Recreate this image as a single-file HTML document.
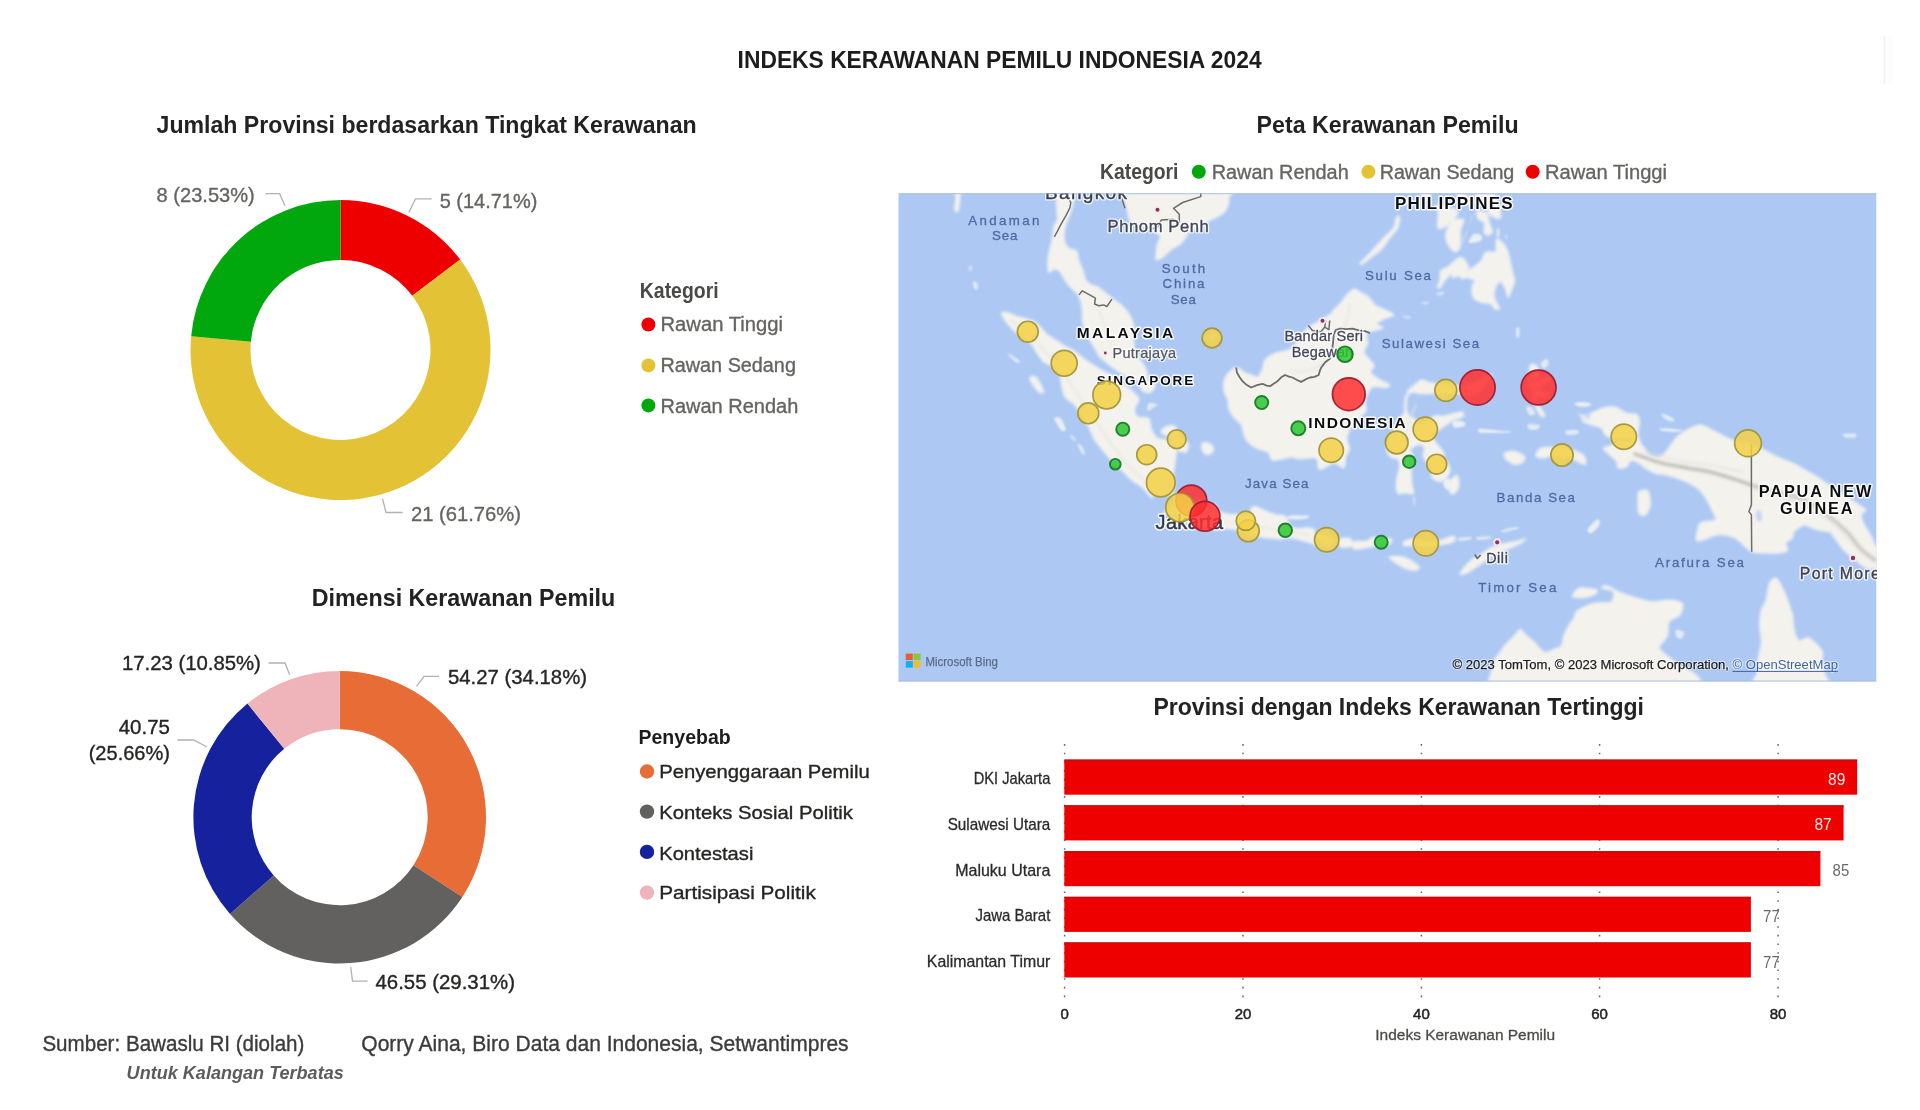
<!DOCTYPE html>
<html lang="id"><head><meta charset="utf-8"><title>Indeks Kerawanan Pemilu Indonesia 2024</title>
<style>html,body{margin:0;padding:0;background:#fff;}body{width:1920px;height:1110px;overflow:hidden;}svg{display:block;font-family:"Liberation Sans", sans-serif;}</style></head><body>
<svg width="1920" height="1110" viewBox="0 0 1920 1110">
<defs><clipPath id="mapclip"><rect x="898.5" y="193.5" width="977.8" height="488"/></clipPath><filter id="soft" x="-5%" y="-5%" width="110%" height="110%"><feGaussianBlur stdDeviation="1.35"/></filter><filter id="soft2" x="-5%" y="-5%" width="110%" height="110%"><feGaussianBlur stdDeviation="0.55"/></filter><filter id="soft3" x="-5%" y="-5%" width="110%" height="110%"><feGaussianBlur stdDeviation="1.3"/></filter><filter id="tblur" x="-5%" y="-20%" width="110%" height="140%"><feGaussianBlur stdDeviation="0.45"/></filter><filter id="halo" x="-10%" y="-30%" width="120%" height="160%"><feGaussianBlur stdDeviation="1.6"/></filter></defs>
<rect width="1920" height="1110" fill="#ffffff"/>
<rect x="1883.6" y="36" width="1.6" height="48" fill="#f1f1f1"/>
<rect x="1888" y="36" width="6" height="48" fill="#fcfcfc"/>
<g filter="url(#tblur)">
<text x="737.6" y="68" font-size="23.2" fill="#1f1f1f" font-weight="bold" text-anchor="start" textLength="524" lengthAdjust="spacingAndGlyphs">INDEKS KERAWANAN PEMILU INDONESIA 2024</text>
<text x="156.6" y="132.6" font-size="24.2" fill="#222" font-weight="bold" text-anchor="start" textLength="540" lengthAdjust="spacingAndGlyphs">Jumlah Provinsi berdasarkan Tingkat Kerawanan</text>
<text x="1256.6" y="132.9" font-size="24.2" fill="#222" font-weight="bold" text-anchor="start" textLength="262" lengthAdjust="spacingAndGlyphs">Peta Kerawanan Pemilu</text>
<text x="311.7" y="605.6" font-size="24" fill="#222" font-weight="bold" text-anchor="start" textLength="303.6" lengthAdjust="spacingAndGlyphs">Dimensi Kerawanan Pemilu</text>
<text x="1153.5" y="715" font-size="24" fill="#222" font-weight="bold" text-anchor="start" textLength="490.5" lengthAdjust="spacingAndGlyphs">Provinsi dengan Indeks Kerawanan Tertinggi</text>
</g>
<g filter="url(#soft2)">
<path d="M340.50,200.00A150,150 0 0 1 460.20,259.60L412.32,295.76A90,90 0 0 0 340.50,260.00Z" fill="#ee0000"/>
<path d="M460.20,259.60A150,150 0 1 1 191.14,336.16L250.88,341.70A90,90 0 1 0 412.32,295.76Z" fill="#e3c335"/>
<path d="M191.14,336.16A150,150 0 0 1 340.50,200.00L340.50,260.00A90,90 0 0 0 250.88,341.70Z" fill="#04a80c"/>
</g>
<g fill="none" stroke="#b3b0ad" stroke-width="1.3" filter="url(#tblur)">
<polyline points="431.5,198.8 415.5,198.8 408.9,212.4"/>
<polyline points="265.4,193.7 279.6,193.7 285,205.7"/>
<polyline points="382.5,498.7 386,512.5 402.5,512.5"/>
</g>
<g filter="url(#tblur)">
<text x="439.7" y="207.9" font-size="21" fill="#666462" stroke="#666462" stroke-width="0.35" font-weight="normal" text-anchor="start" textLength="97.6" lengthAdjust="spacingAndGlyphs">5 (14.71%)</text>
<text x="156.6" y="201.8" font-size="21" fill="#666462" stroke="#666462" stroke-width="0.35" font-weight="normal" text-anchor="start" textLength="98.2" lengthAdjust="spacingAndGlyphs">8 (23.53%)</text>
<text x="411" y="520.5" font-size="21" fill="#666462" stroke="#666462" stroke-width="0.35" font-weight="normal" text-anchor="start" textLength="110" lengthAdjust="spacingAndGlyphs">21 (61.76%)</text>
<text x="639.8" y="297.6" font-size="21.5" fill="#4a4846" font-weight="bold" text-anchor="start" textLength="78.8" lengthAdjust="spacingAndGlyphs">Kategori</text>
</g>
<circle cx="648.4" cy="324.5" r="7" fill="#ee0000" filter="url(#soft2)"/>
<circle cx="648.4" cy="365.4" r="7" fill="#e3c335" filter="url(#soft2)"/>
<circle cx="648.4" cy="405.4" r="7" fill="#04a80c" filter="url(#soft2)"/>
<g filter="url(#tblur)">
<text x="660.5" y="331.3" font-size="20" fill="#666462" stroke="#666462" stroke-width="0.35" font-weight="normal" text-anchor="start" textLength="122.5" lengthAdjust="spacingAndGlyphs">Rawan Tinggi</text>
<text x="660.5" y="372.2" font-size="20" fill="#666462" stroke="#666462" stroke-width="0.35" font-weight="normal" text-anchor="start" textLength="135.4" lengthAdjust="spacingAndGlyphs">Rawan Sedang</text>
<text x="660.5" y="412.7" font-size="20" fill="#666462" stroke="#666462" stroke-width="0.35" font-weight="normal" text-anchor="start" textLength="137.8" lengthAdjust="spacingAndGlyphs">Rawan Rendah</text>
</g>
<g filter="url(#soft2)">
<path d="M339.70,670.90A146.3,146.3 0 0 1 462.36,896.95L413.48,865.17A88,88 0 0 0 339.70,729.20Z" fill="#e76c36"/>
<path d="M462.36,896.95A146.3,146.3 0 0 1 230.03,914.03L273.73,875.44A88,88 0 0 0 413.48,865.17Z" fill="#646060"/>
<path d="M230.03,914.03A146.3,146.3 0 0 1 247.51,703.60L284.25,748.87A88,88 0 0 0 273.73,875.44Z" fill="#13239d"/>
<path d="M247.51,703.60A146.3,146.3 0 0 1 339.70,670.90L339.70,729.20A88,88 0 0 0 284.25,748.87Z" fill="#efb4b9"/>
</g>
<g fill="none" stroke="#b3b0ad" stroke-width="1.3" filter="url(#tblur)">
<polyline points="439,676.3 424,676.3 416.5,686.3"/>
<polyline points="268.5,663 285,663 289.6,674.8"/>
<polyline points="177.5,740 193.7,740 207,747"/>
<polyline points="350.7,967 352.5,981.2 367.5,981.2"/>
</g>
<g filter="url(#tblur)">
<text x="448" y="683.6" font-size="20" fill="#262524" stroke="#262524" stroke-width="0.35" font-weight="normal" text-anchor="start" textLength="139" lengthAdjust="spacingAndGlyphs">54.27 (34.18%)</text>
<text x="121.9" y="670.2" font-size="20" fill="#262524" stroke="#262524" stroke-width="0.35" font-weight="normal" text-anchor="start" textLength="139" lengthAdjust="spacingAndGlyphs">17.23 (10.85%)</text>
<text x="118.7" y="733.6" font-size="20" fill="#262524" stroke="#262524" stroke-width="0.35" font-weight="normal" text-anchor="start" textLength="51.3" lengthAdjust="spacingAndGlyphs">40.75</text>
<text x="88.7" y="760.4" font-size="20" fill="#262524" stroke="#262524" stroke-width="0.35" font-weight="normal" text-anchor="start" textLength="81.3" lengthAdjust="spacingAndGlyphs">(25.66%)</text>
<text x="375.5" y="988.6" font-size="20" fill="#262524" stroke="#262524" stroke-width="0.35" font-weight="normal" text-anchor="start" textLength="139.5" lengthAdjust="spacingAndGlyphs">46.55 (29.31%)</text>
<text x="638.5" y="744" font-size="20" fill="#1e1e1e" font-weight="bold" text-anchor="start" textLength="92.2" lengthAdjust="spacingAndGlyphs">Penyebab</text>
</g>
<circle cx="647" cy="771.5" r="7.2" fill="#e76c36" filter="url(#soft2)"/>
<circle cx="647" cy="811.6" r="7.2" fill="#646060" filter="url(#soft2)"/>
<circle cx="647" cy="851.9" r="7.2" fill="#13239d" filter="url(#soft2)"/>
<circle cx="647" cy="892.6" r="7.2" fill="#efb4b9" filter="url(#soft2)"/>
<g filter="url(#tblur)">
<text x="659.2" y="777.7" font-size="19" fill="#262524" stroke="#262524" stroke-width="0.35" font-weight="normal" text-anchor="start" textLength="210.5" lengthAdjust="spacingAndGlyphs">Penyenggaraan Pemilu</text>
<text x="659.2" y="818.8" font-size="19" fill="#262524" stroke="#262524" stroke-width="0.35" font-weight="normal" text-anchor="start" textLength="193.8" lengthAdjust="spacingAndGlyphs">Konteks Sosial Politik</text>
<text x="659.2" y="859.5" font-size="19" fill="#262524" stroke="#262524" stroke-width="0.35" font-weight="normal" text-anchor="start" textLength="94.2" lengthAdjust="spacingAndGlyphs">Kontestasi</text>
<text x="659.2" y="899.2" font-size="19" fill="#262524" stroke="#262524" stroke-width="0.35" font-weight="normal" text-anchor="start" textLength="156.6" lengthAdjust="spacingAndGlyphs">Partisipasi Politik</text>
<text x="42.4" y="1050.8" font-size="21.8" fill="#3b3b3b" stroke="#3b3b3b" stroke-width="0.35" font-weight="normal" text-anchor="start" textLength="262" lengthAdjust="spacingAndGlyphs">Sumber: Bawaslu RI (diolah)</text>
<text x="361.3" y="1050.8" font-size="21.8" fill="#3b3b3b" stroke="#3b3b3b" stroke-width="0.35" font-weight="normal" text-anchor="start" textLength="487.3" lengthAdjust="spacingAndGlyphs">Qorry Aina, Biro Data dan Indonesia, Setwantimpres</text>
<text x="126.6" y="1078.7" font-size="18.2" fill="#5c5c5c" font-weight="bold" text-anchor="start" textLength="217.2" lengthAdjust="spacingAndGlyphs" font-style="italic">Untuk Kalangan Terbatas</text>
</g>
<g filter="url(#tblur)">
<text x="1100" y="179.1" font-size="21.5" fill="#4a4846" font-weight="bold" text-anchor="start" textLength="78.5" lengthAdjust="spacingAndGlyphs">Kategori</text>
<text x="1211.7" y="179.1" font-size="20" fill="#666462" stroke="#666462" stroke-width="0.35" font-weight="normal" text-anchor="start" textLength="137" lengthAdjust="spacingAndGlyphs">Rawan Rendah</text>
<text x="1379.7" y="179.1" font-size="20" fill="#666462" stroke="#666462" stroke-width="0.35" font-weight="normal" text-anchor="start" textLength="134.6" lengthAdjust="spacingAndGlyphs">Rawan Sedang</text>
<text x="1545" y="179.1" font-size="20" fill="#666462" stroke="#666462" stroke-width="0.35" font-weight="normal" text-anchor="start" textLength="122" lengthAdjust="spacingAndGlyphs">Rawan Tinggi</text>
</g>
<circle cx="1198.8" cy="171.7" r="7" fill="#04a80c" filter="url(#soft2)"/>
<circle cx="1368.4" cy="171.7" r="7" fill="#e3c335" filter="url(#soft2)"/>
<circle cx="1532.7" cy="171.7" r="7" fill="#ee0000" filter="url(#soft2)"/>
<g clip-path="url(#mapclip)">
<rect x="898" y="193" width="979" height="489" fill="#acc8f3"/>
<g filter="url(#soft)">
<g fill="none" stroke="#d5e2f7" stroke-width="1.8" stroke-linejoin="round" opacity="0.9">
<path d="M1056.0,182.2C1053.1,184.5 1056.2,193.6 1056.3,197.4C1056.4,201.2 1056.7,204.2 1056.8,207.5C1056.9,210.8 1057.8,216.2 1057.3,219.2C1056.8,222.3 1054.2,225.1 1053.5,227.6C1052.8,230.1 1053.1,233.5 1052.7,236.0C1052.3,238.5 1051.7,241.5 1051.0,244.3C1050.4,247.0 1049.1,251.4 1048.6,254.3C1048.1,257.2 1047.7,260.7 1047.8,263.4C1047.8,266.2 1048.2,271.7 1049.1,272.6C1049.9,273.4 1052.0,269.5 1053.5,269.3C1055.0,269.0 1057.5,269.3 1059.3,270.9C1061.0,272.5 1063.3,277.5 1065.0,280.0C1066.7,282.5 1068.9,285.4 1070.8,287.5C1072.6,289.6 1075.9,292.1 1077.4,294.1C1078.8,296.1 1079.9,298.1 1080.6,300.7C1081.4,303.3 1082.0,308.4 1082.3,311.5C1082.6,314.6 1082.1,318.3 1082.6,321.4C1083.1,324.5 1084.5,329.3 1085.6,332.1C1086.6,334.9 1088.2,337.5 1089.7,340.0C1091.2,342.5 1094.1,346.7 1095.4,349.1C1096.8,351.4 1097.1,353.7 1098.7,355.6C1100.3,357.6 1103.9,360.4 1106.1,362.2C1108.3,364.1 1110.9,366.1 1113.5,368.0C1116.1,369.8 1120.5,372.8 1123.4,374.6C1126.2,376.3 1130.1,378.9 1132.4,379.8C1134.8,380.7 1137.2,380.6 1139.0,380.6C1140.9,380.6 1143.4,380.3 1144.8,379.8C1146.1,379.3 1147.5,378.8 1147.7,377.4C1148.0,375.9 1147.3,372.3 1146.4,370.0C1145.5,367.6 1143.2,364.2 1141.5,361.7C1139.7,359.3 1136.0,356.2 1134.9,353.5C1133.8,350.8 1134.3,346.3 1134.1,343.6C1133.9,340.9 1133.6,337.9 1133.6,335.4C1133.6,332.9 1134.4,329.6 1134.1,327.1C1133.8,324.7 1132.7,321.4 1131.6,318.9C1130.5,316.4 1128.4,312.9 1126.7,310.6C1124.9,308.4 1122.1,305.8 1120.1,304.0C1118.1,302.3 1115.5,300.6 1113.5,299.1C1111.5,297.6 1109.2,295.8 1106.9,294.1C1104.7,292.4 1100.9,288.9 1098.7,287.5C1096.5,286.1 1094.0,286.0 1092.1,285.0C1090.3,284.0 1087.8,283.0 1086.4,280.9C1085.0,278.7 1084.2,273.9 1083.1,270.9C1082.0,267.9 1080.0,263.9 1079.0,260.9C1078.0,258.0 1078.0,252.8 1076.5,251.0C1075.1,249.1 1070.9,249.7 1069.1,248.5C1067.4,247.2 1065.8,245.0 1065.0,242.6C1064.3,240.3 1064.0,235.6 1064.2,232.6C1064.4,229.6 1065.8,225.3 1066.7,222.6C1067.5,219.8 1069.0,216.7 1070.0,214.2C1070.9,211.7 1072.1,208.1 1072.7,205.8C1073.4,203.6 1073.7,201.1 1074.1,199.1C1074.4,197.1 1074.6,194.9 1074.9,192.4C1075.1,189.8 1078.5,183.8 1075.7,182.2C1072.9,180.7 1058.9,180.0 1056.0,182.2Z"/>
<path d="M1122.6,182.2C1106.5,184.3 1123.0,192.6 1123.4,195.7C1123.8,198.9 1124.4,201.0 1125.0,203.3C1125.6,205.6 1126.9,208.5 1127.5,210.9C1128.1,213.2 1128.0,217.0 1129.1,219.2C1130.2,221.5 1133.0,224.7 1134.9,225.9C1136.7,227.2 1139.5,227.4 1141.5,227.6C1143.4,227.9 1145.9,227.0 1148.0,227.6C1150.1,228.2 1153.6,230.4 1155.4,231.8C1157.3,233.2 1160.1,234.9 1160.4,236.8C1160.6,238.7 1157.7,241.9 1157.1,244.3C1156.5,246.7 1156.4,250.4 1156.3,252.6C1156.1,254.9 1155.2,258.4 1155.9,259.3C1156.7,260.2 1159.5,259.3 1161.2,258.5C1162.8,257.6 1165.2,255.0 1167.0,253.5C1168.7,252.0 1170.7,249.8 1172.7,248.5C1174.7,247.1 1178.1,245.9 1180.1,244.3C1182.1,242.7 1184.5,239.6 1185.9,237.6C1187.2,235.6 1187.8,232.2 1189.1,230.9C1190.5,229.7 1192.9,229.9 1194.9,229.3C1196.9,228.7 1200.0,228.1 1202.3,226.8C1204.6,225.4 1207.9,221.7 1210.5,220.1C1213.1,218.4 1217.3,217.3 1219.6,215.9C1221.8,214.5 1224.0,212.6 1225.3,210.9C1226.7,209.1 1228.1,206.2 1228.6,204.1C1229.1,202.1 1228.7,200.7 1228.9,197.4C1229.2,194.1 1246.2,184.5 1230.2,182.2C1214.3,180.0 1138.6,180.2 1122.6,182.2Z"/>
<path d="M1001.7,312.6C1002.3,311.8 1005.4,312.1 1007.5,312.6C1009.6,313.1 1012.7,315.0 1015.7,315.9C1018.7,316.9 1024.3,318.0 1027.2,318.9C1030.2,319.8 1033.3,320.8 1035.4,322.2C1037.5,323.6 1039.6,326.2 1041.2,328.0C1042.8,329.7 1044.3,332.1 1046.1,333.7C1048.0,335.3 1050.7,336.8 1053.5,338.7C1056.3,340.5 1061.7,344.1 1065.0,346.1C1068.4,348.1 1072.9,350.0 1075.7,351.9C1078.5,353.8 1081.5,356.9 1083.9,358.8C1086.4,360.6 1089.3,362.4 1092.1,364.2C1095.0,366.0 1099.8,369.1 1102.8,370.8C1105.9,372.5 1110.0,374.0 1112.7,375.7C1115.4,377.4 1118.6,380.4 1120.9,382.3C1123.3,384.1 1126.3,386.4 1128.3,388.0C1130.3,389.7 1132.5,391.3 1134.1,393.0C1135.7,394.7 1138.9,397.2 1139.0,399.6C1139.1,401.9 1135.1,406.0 1134.9,408.6C1134.6,411.2 1135.3,415.3 1137.4,416.8C1139.5,418.3 1146.8,416.6 1148.9,418.5C1151.0,420.3 1150.0,426.2 1151.3,429.2C1152.7,432.1 1155.3,436.5 1157.9,438.2C1160.5,439.9 1165.9,438.9 1168.6,440.7C1171.3,442.4 1175.0,446.5 1176.0,449.7C1177.0,452.9 1175.5,458.5 1175.2,462.1C1174.8,465.7 1173.6,470.4 1173.5,473.6C1173.4,476.8 1174.5,480.2 1174.3,483.5C1174.2,486.8 1174.2,494.4 1172.7,495.9C1171.2,497.4 1166.2,493.3 1164.5,493.4C1162.8,493.5 1162.9,496.7 1161.2,496.7C1159.5,496.7 1154.3,493.2 1153.0,493.4C1151.6,493.7 1153.0,498.5 1152.2,498.4C1151.3,498.2 1148.9,494.4 1147.2,492.6C1145.5,490.7 1143.0,487.8 1140.6,486.0C1138.3,484.1 1134.3,482.4 1131.6,480.2C1128.9,478.0 1125.2,473.6 1122.6,471.1C1120.0,468.7 1117.2,466.7 1114.3,463.7C1111.5,460.8 1106.6,454.9 1103.7,451.4C1100.7,447.8 1096.6,442.9 1094.6,439.8C1092.6,436.8 1092.2,434.3 1090.5,430.8C1088.8,427.3 1085.4,420.6 1083.1,416.8C1080.8,413.0 1077.6,408.3 1074.9,405.3C1072.2,402.4 1067.0,400.0 1065.0,397.1C1063.0,394.1 1062.6,389.2 1061.7,385.6C1060.9,382.0 1060.7,376.2 1059.3,373.2C1057.8,370.3 1054.2,367.6 1051.9,365.8C1049.5,364.1 1046.0,363.8 1043.6,361.7C1041.3,359.6 1038.3,354.8 1036.3,351.9C1034.2,348.9 1032.4,344.6 1029.7,342.0C1027.0,339.4 1021.3,337.0 1018.2,334.6C1015.1,332.1 1011.3,328.0 1009.1,325.5C1006.9,323.0 1004.5,320.0 1003.4,318.1C1002.3,316.1 1001.1,313.4 1001.7,312.6Z"/>
<path d="M1163.7,513.3C1163.8,512.4 1167.1,509.7 1168.6,508.3C1170.1,506.9 1172.4,505.6 1173.5,504.2C1174.6,502.7 1174.6,499.0 1176.0,498.4C1177.3,497.7 1180.5,499.6 1182.6,500.0C1184.7,500.5 1187.7,501.5 1190.0,501.3C1192.2,501.2 1194.9,498.8 1197.4,499.2C1199.8,499.5 1203.8,502.9 1206.4,503.7C1209.0,504.4 1212.7,503.0 1214.6,504.2C1216.6,505.3 1217.5,510.1 1219.6,511.6C1221.7,513.1 1225.9,513.7 1228.6,514.1C1231.3,514.5 1234.8,514.2 1237.6,514.4C1240.5,514.6 1245.3,516.5 1247.5,515.4C1249.7,514.3 1250.8,508.2 1252.4,507.0C1254.0,505.8 1256.1,506.8 1258.2,507.5C1260.3,508.1 1263.7,510.2 1266.4,511.3C1269.1,512.4 1273.6,514.2 1276.3,514.9C1279.0,515.6 1282.8,514.9 1284.5,515.7C1286.2,516.6 1286.8,519.0 1287.8,520.7C1288.8,522.4 1289.6,525.7 1291.1,526.8C1292.6,528.0 1295.2,528.4 1297.6,528.5C1300.1,528.7 1305.0,527.6 1307.5,527.8C1310.0,528.0 1313.4,528.5 1314.4,529.8C1315.4,531.1 1313.8,534.2 1314.1,536.5C1314.4,538.8 1316.8,544.1 1316.6,545.1C1316.3,546.2 1314.5,544.1 1312.4,543.5C1310.3,542.8 1305.8,541.4 1302.6,540.6C1299.4,539.8 1294.5,538.4 1291.1,538.1C1287.6,537.9 1282.9,539.0 1279.6,539.0C1276.2,539.0 1272.1,538.5 1268.9,538.1C1265.7,537.8 1261.5,537.6 1258.2,536.8C1254.9,536.1 1249.9,534.2 1246.7,533.1C1243.5,532.1 1240.0,530.5 1236.8,529.8C1233.6,529.1 1228.5,528.6 1225.3,528.5C1222.1,528.5 1218.7,529.6 1215.4,529.5C1212.2,529.4 1207.4,528.7 1203.9,527.8C1200.5,527.0 1195.4,525.0 1192.4,524.0C1189.5,523.1 1185.6,522.7 1184.2,521.5C1182.9,520.4 1184.6,517.6 1183.4,516.6C1182.2,515.5 1178.3,515.0 1176.0,514.6C1173.6,514.2 1169.6,514.3 1167.8,514.1C1165.9,513.9 1163.5,514.1 1163.7,513.3Z"/>
<path d="M1314.8,535.0C1316.1,534.3 1323.1,534.4 1326.1,535.1C1329.2,535.8 1334.3,538.2 1335.2,539.6C1336.2,541.0 1333.6,543.5 1332.3,544.4C1331.0,545.4 1328.9,546.7 1326.7,545.9C1324.5,545.2 1319.3,541.1 1317.5,539.4C1315.7,537.8 1313.6,535.6 1314.8,535.0Z"/>
<path d="M1337.9,540.8C1338.1,539.5 1340.0,538.5 1341.9,538.2C1343.9,538.0 1349.6,537.9 1351.0,539.1C1352.4,540.3 1352.7,545.2 1351.2,546.4C1349.6,547.6 1342.5,547.7 1340.5,546.9C1338.5,546.0 1337.7,542.1 1337.9,540.8Z"/>
<path d="M1352.9,542.5C1353.7,541.4 1356.6,541.3 1358.7,541.1C1360.7,540.9 1364.7,541.6 1366.8,541.1C1368.9,540.5 1371.0,537.9 1372.7,537.6C1374.4,537.3 1378.1,538.4 1378.3,539.2C1378.5,540.0 1373.3,542.9 1374.1,543.0C1374.8,543.0 1380.6,540.2 1383.2,539.6C1385.8,539.0 1390.5,538.0 1391.4,538.7C1392.4,539.4 1391.3,543.1 1389.5,544.2C1387.8,545.2 1382.6,545.3 1379.6,545.8C1376.7,546.2 1372.7,546.5 1369.8,547.0C1366.8,547.4 1362.4,548.7 1359.9,548.9C1357.4,549.1 1354.4,549.5 1353.4,548.5C1352.3,547.6 1352.1,543.7 1352.9,542.5Z"/>
<path d="M1403.8,541.7C1405.3,540.6 1410.9,539.0 1414.5,539.0C1418.1,539.0 1423.9,541.2 1427.6,541.5C1431.2,541.7 1435.3,541.6 1439.0,540.8C1442.8,540.1 1449.8,536.6 1452.3,536.3C1454.8,536.0 1455.5,537.7 1455.5,538.6C1455.5,539.5 1454.6,541.4 1452.1,542.3C1449.6,543.3 1442.6,544.4 1438.9,545.0C1435.2,545.7 1431.1,546.4 1427.4,546.5C1423.7,546.6 1417.7,545.7 1414.3,545.6C1410.9,545.5 1406.0,546.4 1404.5,545.8C1402.9,545.2 1402.3,542.7 1403.8,541.7Z"/>
<path d="M1388.9,557.1C1389.6,556.3 1396.2,556.2 1399.2,556.5C1402.2,556.8 1406.0,557.7 1409.0,559.3C1412.0,560.8 1418.0,565.2 1419.1,566.9C1420.2,568.5 1418.1,569.8 1416.2,570.1C1414.4,570.4 1409.8,569.9 1406.6,568.7C1403.4,567.5 1397.6,564.1 1394.9,562.4C1392.3,560.6 1388.3,558.0 1388.9,557.1Z"/>
<path d="M1459.9,573.9C1459.6,573.0 1462.0,570.1 1464.0,567.8C1465.9,565.5 1470.4,560.6 1473.0,558.6C1475.6,556.5 1478.7,555.9 1481.2,554.3C1483.7,552.8 1487.0,549.7 1489.8,548.3C1492.5,546.8 1495.8,545.4 1499.4,544.4C1502.9,543.5 1509.3,542.7 1513.2,541.9C1517.2,541.0 1524.6,538.7 1525.7,538.9C1526.8,539.1 1522.9,541.8 1520.4,543.3C1517.9,544.7 1512.9,546.9 1509.1,548.5C1505.2,550.2 1498.1,552.5 1494.7,554.2C1491.2,556.0 1488.9,558.4 1486.1,560.3C1483.3,562.3 1479.0,565.3 1476.0,567.3C1472.9,569.3 1468.3,572.6 1465.9,573.6C1463.5,574.6 1460.2,574.7 1459.9,573.9Z"/>
<path d="M1638.8,491.8C1640.3,490.4 1646.1,489.0 1647.8,490.9C1649.5,492.9 1650.7,501.4 1650.3,505.0C1649.9,508.6 1647.1,513.7 1645.4,514.9C1643.6,516.2 1639.9,515.5 1638.8,513.3C1637.7,511.0 1638.0,503.2 1638.0,500.0C1638.0,496.8 1637.3,493.1 1638.8,491.8Z"/>
<path d="M1355.2,289.1C1356.8,289.5 1359.8,292.2 1361.8,293.3C1363.7,294.4 1366.4,294.9 1368.3,296.6C1370.3,298.3 1372.7,303.0 1374.9,304.9C1377.1,306.7 1380.3,307.5 1383.1,309.0C1386.0,310.5 1393.8,313.2 1393.8,314.8C1393.8,316.3 1385.7,318.0 1383.1,319.4C1380.5,320.8 1376.6,322.6 1376.6,323.8C1376.6,325.1 1383.9,326.9 1383.1,328.0C1382.4,329.1 1374.1,330.4 1371.6,331.3C1369.2,332.1 1367.3,331.9 1366.7,333.7C1366.1,335.6 1367.9,340.9 1367.5,343.6C1367.1,346.3 1363.9,349.4 1364.2,351.9C1364.6,354.3 1368.5,358.0 1370.0,360.1C1371.5,362.2 1374.0,364.0 1374.1,365.8C1374.2,367.7 1369.9,370.3 1370.8,372.4C1371.7,374.5 1377.0,378.0 1379.8,379.8C1382.7,381.7 1388.8,383.6 1389.7,384.8C1390.6,385.9 1388.1,387.4 1385.6,387.7C1383.1,388.0 1376.0,385.8 1373.3,386.7C1370.6,387.6 1368.8,391.5 1367.5,393.8C1366.3,396.1 1365.3,399.4 1365.1,402.0C1364.8,404.6 1367.1,408.2 1365.9,411.1C1364.6,413.9 1359.3,418.1 1356.8,420.9C1354.4,423.8 1350.9,427.3 1349.4,430.0C1348.0,432.7 1347.0,436.2 1347.0,439.0C1347.0,441.9 1349.7,446.2 1349.4,448.9C1349.2,451.6 1346.6,454.5 1345.3,457.1C1344.1,459.7 1342.9,465.3 1341.2,466.2C1339.5,467.1 1337.0,462.4 1333.8,462.9C1330.6,463.4 1322.4,470.1 1319.8,469.5C1317.3,468.9 1318.2,460.5 1316.6,458.8C1315.0,457.0 1311.7,458.0 1309.2,458.0C1306.6,458.0 1302.0,458.9 1299.3,458.8C1296.6,458.7 1293.5,457.1 1291.1,457.1C1288.6,457.1 1285.7,458.3 1282.9,458.8C1280.0,459.2 1274.4,461.1 1272.2,460.1C1269.9,459.1 1270.2,453.9 1268.1,452.2C1266.0,450.5 1260.9,450.1 1258.2,448.9C1255.5,447.7 1251.9,445.7 1250.0,444.0C1248.0,442.2 1246.1,439.6 1245.0,437.4C1243.9,435.2 1243.2,431.1 1242.6,429.2C1242.0,427.2 1242.4,426.2 1240.9,424.2C1239.5,422.2 1234.6,418.5 1232.7,416.0C1230.9,413.5 1229.3,410.2 1228.6,407.8C1227.9,405.3 1228.4,401.8 1227.8,399.6C1227.2,397.3 1225.1,395.3 1224.5,393.0C1223.9,390.6 1223.4,386.5 1223.7,383.9C1223.9,381.3 1224.3,378.2 1226.1,375.7C1228.0,373.2 1233.2,367.9 1236.0,367.5C1238.8,367.1 1242.7,371.8 1245.0,372.9C1247.4,374.0 1249.6,374.3 1251.6,374.9C1253.6,375.4 1256.5,377.6 1258.2,376.5C1259.9,375.4 1262.1,370.0 1263.1,367.5C1264.1,365.0 1263.0,362.2 1264.8,360.1C1266.5,358.0 1271.2,355.0 1274.6,353.5C1278.1,352.0 1284.8,351.4 1287.8,350.2C1290.7,349.0 1292.5,347.1 1294.4,345.3C1296.2,343.4 1298.1,340.5 1300.1,337.9C1302.1,335.3 1305.2,330.2 1307.5,328.0C1309.9,325.7 1313.4,324.4 1315.7,323.0C1318.1,321.7 1320.9,320.3 1323.1,318.9C1325.3,317.5 1328.8,315.4 1330.5,313.9C1332.3,312.5 1333.0,310.7 1334.6,309.0C1336.2,307.3 1339.6,304.2 1341.2,302.4C1342.8,300.5 1343.8,298.3 1345.3,296.6C1346.8,294.9 1349.6,291.9 1351.1,290.8C1352.6,289.7 1353.6,288.8 1355.2,289.1Z"/>
<path d="M1492.5,374.9C1492.0,374.2 1487.4,375.6 1485.1,376.5C1482.7,377.5 1480.0,380.1 1476.8,381.5C1473.6,382.8 1467.4,385.1 1463.7,385.6C1460.0,386.1 1455.9,385.0 1452.2,384.8C1448.5,384.5 1442.5,384.3 1439.0,383.9C1435.6,383.6 1431.9,382.9 1429.2,382.3C1426.5,381.7 1423.0,379.5 1420.9,379.8C1418.9,380.2 1416.9,383.4 1415.2,384.8C1413.5,386.1 1410.9,386.9 1409.4,388.9C1408.0,390.8 1406.1,395.3 1405.3,397.9C1404.6,400.5 1404.7,403.9 1404.5,406.1C1404.3,408.4 1405.0,411.1 1404.2,413.0C1403.3,415.0 1400.2,417.1 1398.8,419.3C1397.3,421.5 1395.9,424.8 1394.6,427.5C1393.4,430.2 1391.7,434.8 1390.5,437.4C1389.4,440.0 1387.2,442.6 1386.8,444.8C1386.3,447.0 1386.4,450.2 1387.2,452.2C1388.1,454.2 1390.6,457.0 1392.2,458.0C1393.8,458.9 1396.8,457.4 1397.9,458.8C1399.0,460.1 1399.7,464.3 1399.6,467.0C1399.5,469.7 1397.6,474.1 1397.1,476.9C1396.6,479.8 1396.2,483.5 1396.3,486.0C1396.4,488.5 1396.5,492.3 1397.9,493.4C1399.4,494.5 1403.8,493.1 1406.2,493.1C1408.5,493.1 1412.7,494.8 1413.5,493.4C1414.4,492.0 1412.3,487.5 1411.9,483.5C1411.5,479.5 1411.0,471.2 1411.1,467.0C1411.2,462.8 1412.9,458.1 1412.7,455.5C1412.6,452.9 1409.8,451.2 1410.3,449.7C1410.8,448.2 1414.3,446.3 1416.0,445.6C1417.7,444.9 1420.5,444.3 1421.8,444.8C1423.0,445.3 1424.0,447.0 1424.2,448.9C1424.5,450.7 1422.6,454.5 1423.4,457.1C1424.3,459.7 1428.6,464.3 1430.0,466.2C1431.3,468.0 1432.2,467.9 1432.5,469.5C1432.7,471.1 1430.9,475.2 1431.6,476.9C1432.4,478.6 1435.7,480.4 1437.4,481.0C1439.1,481.6 1441.4,482.0 1443.1,481.0C1444.9,480.0 1447.9,476.5 1448.9,474.4C1449.9,472.3 1450.3,469.4 1449.7,467.0C1449.1,464.7 1445.8,461.1 1444.8,458.8C1443.8,456.4 1444.3,453.5 1443.1,451.4C1442.0,449.3 1439.0,446.9 1437.4,444.8C1435.8,442.7 1433.9,439.2 1432.5,437.4C1431.0,435.5 1427.2,433.2 1427.5,432.4C1427.9,431.7 1432.7,433.2 1434.9,432.4C1437.1,431.7 1439.7,429.2 1442.3,427.5C1444.9,425.8 1449.5,422.4 1452.2,420.9C1454.9,419.4 1458.7,418.4 1460.4,417.6C1462.1,416.9 1463.4,416.9 1463.7,416.0C1463.9,415.1 1463.5,412.3 1462.0,411.9C1460.6,411.5 1456.5,412.9 1453.8,413.5C1451.1,414.1 1446.9,415.6 1444.0,416.0C1441.0,416.4 1436.8,415.0 1434.1,416.0C1431.4,417.0 1428.2,421.3 1425.9,422.6C1423.5,423.8 1420.2,424.8 1418.5,424.2C1416.8,423.6 1415.7,419.6 1414.4,418.5C1413.0,417.3 1410.6,417.7 1409.4,416.3C1408.3,415.0 1407.1,411.6 1406.6,409.4C1406.2,407.3 1406.5,404.1 1406.6,402.0C1406.8,399.9 1406.9,396.9 1407.8,395.4C1408.7,394.0 1410.8,392.4 1412.7,392.2C1414.7,391.9 1418.2,393.6 1420.9,393.8C1423.7,394.0 1427.4,393.5 1430.8,393.5C1434.3,393.4 1440.1,393.4 1444.0,393.3C1447.8,393.2 1453.1,392.5 1456.3,393.0C1459.5,393.4 1462.3,396.0 1465.3,396.3C1468.4,396.5 1474.1,395.9 1476.8,394.6C1479.6,393.4 1481.7,390.0 1483.4,388.0C1485.1,386.1 1487.0,383.4 1488.4,381.5C1489.7,379.5 1493.0,375.6 1492.5,374.9Z"/>
<path d="M1448.9,482.7C1450.1,480.5 1455.6,474.6 1457.1,475.3C1458.6,475.9 1459.4,484.0 1458.8,486.8C1458.1,489.7 1454.5,493.7 1453.0,494.2C1451.5,494.7 1449.5,491.8 1448.9,490.1C1448.3,488.4 1447.7,484.9 1448.9,482.7Z"/>
<path d="M1504.8,453.0C1506.1,451.9 1511.7,450.9 1514.7,451.4C1517.6,451.9 1523.3,454.7 1524.5,456.3C1525.8,457.9 1524.4,460.8 1522.9,462.1C1521.4,463.3 1517.2,465.0 1514.7,464.5C1512.1,464.0 1507.1,460.5 1505.6,458.8C1504.1,457.0 1503.4,454.1 1504.8,453.0Z"/>
<path d="M1536.0,454.7C1536.5,453.3 1538.2,449.2 1541.0,448.1C1543.7,447.0 1549.9,447.1 1554.1,447.3C1558.3,447.4 1564.5,447.7 1568.9,448.9C1573.3,450.1 1581.3,453.1 1583.7,455.5C1586.1,457.8 1586.8,464.2 1584.9,464.5C1582.9,464.9 1573.9,458.9 1570.6,458.0C1567.2,457.0 1565.0,458.3 1562.3,458.0C1559.6,457.6 1555.2,455.5 1552.5,455.5C1549.8,455.5 1546.5,457.7 1544.2,458.0C1542.0,458.2 1538.9,457.6 1537.7,457.1C1536.4,456.6 1535.5,456.0 1536.0,454.7Z"/>
<path d="M1530.3,365.0C1531.4,363.7 1535.6,364.4 1536.8,365.8C1538.1,367.3 1538.6,372.5 1538.5,374.9C1538.4,377.2 1535.5,380.9 1536.0,381.5C1536.5,382.1 1539.8,379.9 1541.8,379.0C1543.8,378.1 1547.9,375.6 1549.2,375.7C1550.4,375.8 1551.1,378.1 1550.0,379.8C1548.9,381.6 1543.6,385.9 1541.8,387.2C1539.9,388.6 1537.3,388.1 1537.7,388.9C1538.0,389.6 1542.5,391.2 1544.2,392.2C1546.0,393.1 1548.7,394.6 1549.2,395.4C1549.7,396.3 1549.0,397.8 1547.5,397.9C1546.1,398.0 1541.0,395.9 1539.3,395.9C1537.6,395.9 1536.0,396.4 1536.0,397.9C1536.0,399.4 1538.0,403.5 1539.3,406.1C1540.7,408.8 1544.8,414.2 1545.1,415.7C1545.3,417.1 1542.3,417.2 1541.0,416.0C1539.6,414.8 1537.3,410.4 1536.0,407.8C1534.8,405.2 1533.4,401.4 1532.7,398.7C1532.1,396.0 1532.6,391.8 1531.9,389.7C1531.2,387.6 1528.5,387.0 1528.1,384.8C1527.8,382.5 1529.1,377.9 1529.5,374.9C1529.8,371.9 1529.2,366.4 1530.3,365.0Z"/>
<path d="M1161.2,432.4C1160.2,430.6 1164.2,427.7 1166.1,426.7C1168.1,425.7 1172.4,424.8 1174.3,425.9C1176.3,427.0 1177.2,431.4 1179.3,434.1C1181.4,436.8 1187.3,441.2 1188.3,444.0C1189.3,446.7 1187.7,451.4 1185.9,452.2C1184.0,452.9 1178.0,450.9 1176.0,448.9C1174.0,446.9 1174.9,441.5 1172.7,439.0C1170.5,436.6 1162.2,434.3 1161.2,432.4Z"/>
<path d="M1202.3,443.1C1203.5,442.1 1208.8,442.8 1210.5,444.0C1212.2,445.1 1214.3,448.9 1213.8,450.5C1213.3,452.1 1209.0,454.7 1207.2,454.7C1205.5,454.7 1203.0,452.3 1202.3,450.5C1201.6,448.8 1201.1,444.1 1202.3,443.1Z"/>
<path d="M1139.0,381.8C1140.0,381.0 1144.2,381.3 1146.4,381.1C1148.6,381.0 1152.5,379.8 1153.8,380.6C1155.1,381.5 1155.4,385.0 1154.9,386.7C1154.5,388.5 1152.2,391.4 1150.5,392.2C1148.9,392.9 1145.5,392.5 1143.9,391.7C1142.3,390.8 1140.6,387.9 1139.8,386.4C1139.1,384.9 1138.0,382.6 1139.0,381.8Z"/>
<path d="M1029.7,377.4C1030.2,376.2 1034.2,375.3 1036.3,377.4C1038.3,379.5 1043.2,389.1 1043.6,391.3C1044.1,393.6 1041.1,393.1 1039.5,392.2C1037.9,391.2 1034.4,387.0 1033.0,384.8C1031.5,382.5 1029.2,378.5 1029.7,377.4Z"/>
<path d="M954.9,182.2C954.0,184.5 955.7,193.3 955.7,197.4C955.7,201.6 954.5,208.0 954.9,210.0C955.2,212.0 957.4,212.5 958.2,210.9C958.9,209.2 959.3,203.4 959.8,199.1C960.3,194.8 962.2,184.8 961.4,182.2C960.7,179.7 955.7,180.0 954.9,182.2Z"/>
<path d="M1360.1,262.9C1360.7,261.9 1363.9,259.3 1365.9,257.3C1367.8,255.2 1370.4,252.4 1373.3,249.3C1376.1,246.2 1381.7,240.0 1384.8,236.8C1387.9,233.5 1392.1,230.5 1393.8,227.6C1395.5,224.7 1395.4,219.2 1396.3,217.6C1397.2,215.9 1399.3,215.2 1399.6,216.7C1399.8,218.2 1399.5,224.2 1397.9,227.6C1396.3,231.0 1391.5,235.9 1388.9,239.3C1386.3,242.7 1383.0,247.7 1380.7,250.1C1378.3,252.6 1375.4,254.0 1373.3,255.6C1371.2,257.2 1368.4,259.6 1366.7,260.9C1365.0,262.2 1362.8,264.0 1361.8,264.3C1360.8,264.6 1359.5,264.0 1360.1,262.9Z"/>
<path d="M1420.1,182.2C1418.5,184.0 1420.3,191.5 1420.9,194.1C1421.6,196.6 1422.9,198.6 1424.2,199.1C1425.6,199.6 1428.9,199.9 1430.0,197.4C1431.1,194.9 1433.1,184.5 1431.6,182.2C1430.2,180.0 1421.7,180.5 1420.1,182.2Z"/>
<path d="M1437.4,204.1C1437.9,202.9 1438.5,205.3 1441.5,206.2C1444.5,207.0 1455.0,208.3 1457.1,210.0C1459.2,211.7 1456.8,215.3 1455.5,217.6C1454.1,219.8 1450.7,223.5 1448.1,225.1C1445.5,226.7 1439.7,230.1 1438.2,228.4C1436.7,226.8 1438.3,217.9 1438.2,214.2C1438.1,210.6 1436.9,205.4 1437.4,204.1Z"/>
<path d="M1445.6,236.8C1445.5,234.0 1446.7,230.1 1448.1,227.6C1449.4,225.1 1452.3,221.2 1454.7,220.1C1457.0,218.9 1462.8,218.4 1463.7,220.1C1464.6,221.7 1460.9,227.1 1460.4,230.9C1459.9,234.8 1461.1,242.8 1460.4,246.0C1459.7,249.1 1457.2,251.8 1455.5,251.8C1453.7,251.8 1450.4,248.2 1448.9,246.0C1447.4,243.7 1445.7,239.5 1445.6,236.8Z"/>
<path d="M1476.8,210.9C1478.1,210.0 1484.9,211.6 1486.7,213.4C1488.6,215.1 1488.3,219.8 1489.2,222.6C1490.0,225.3 1492.6,229.9 1492.5,231.8C1492.3,233.7 1489.6,235.0 1488.4,235.1C1487.1,235.2 1484.9,234.5 1484.2,232.6C1483.6,230.7 1485.1,224.6 1484.2,222.6C1483.4,220.6 1479.6,221.0 1478.5,219.2C1477.4,217.5 1475.6,211.7 1476.8,210.9Z"/>
<path d="M1475.2,193.2C1476.3,192.3 1482.4,193.2 1485.1,193.2C1487.8,193.2 1491.4,192.1 1493.3,193.2C1495.1,194.3 1496.3,197.1 1497.4,200.8C1498.5,204.4 1501.3,215.2 1500.7,217.6C1500.1,220.0 1495.1,217.4 1493.3,216.7C1491.4,216.1 1489.2,214.9 1488.4,213.4C1487.5,211.9 1489.1,208.8 1487.5,206.7C1485.9,204.5 1479.5,201.1 1477.7,199.1C1475.8,197.1 1474.1,194.1 1475.2,193.2Z"/>
<path d="M1457.9,193.2C1459.7,192.5 1468.0,195.7 1470.3,197.4C1472.5,199.2 1473.5,204.2 1472.7,205.0C1472.0,205.7 1467.4,202.9 1465.3,202.5C1463.2,202.0 1459.9,203.5 1458.8,202.1C1457.7,200.7 1456.2,193.9 1457.9,193.2Z"/>
<path d="M1437.4,287.5C1437.3,286.4 1439.4,282.5 1439.9,280.0C1440.3,277.5 1439.4,272.9 1440.7,270.9C1441.9,268.9 1445.9,268.4 1448.1,266.8C1450.3,265.1 1453.4,261.5 1455.5,260.1C1457.6,258.7 1460.1,256.6 1462.0,257.6C1464.0,258.6 1468.0,264.8 1468.6,266.8C1469.2,268.8 1465.2,271.0 1466.2,270.9C1467.1,270.8 1472.9,267.5 1475.2,265.9C1477.5,264.3 1480.3,262.1 1481.8,260.1C1483.3,258.1 1483.6,253.9 1485.1,252.6C1486.5,251.4 1490.0,251.9 1491.6,251.8C1493.2,251.7 1495.0,253.7 1495.8,251.8C1496.5,249.9 1495.3,240.4 1496.6,239.3C1497.8,238.2 1502.2,242.3 1504.0,244.3C1505.7,246.3 1507.1,249.9 1508.1,252.6C1509.1,255.4 1509.8,259.4 1510.5,262.6C1511.3,265.8 1512.4,271.5 1513.0,274.2C1513.6,277.0 1515.0,278.1 1514.7,280.9C1514.3,283.6 1511.5,290.0 1510.5,292.5C1509.6,294.9 1508.9,298.2 1508.1,297.4C1507.2,296.7 1506.0,289.8 1504.8,287.5C1503.6,285.1 1501.3,281.4 1499.9,281.7C1498.4,281.9 1495.7,286.5 1494.9,289.1C1494.2,291.8 1494.2,296.2 1494.9,299.1C1495.6,301.9 1499.5,306.7 1499.5,308.2C1499.5,309.7 1496.2,309.6 1494.9,309.0C1493.6,308.4 1492.8,305.0 1490.8,304.0C1488.8,303.0 1484.2,303.1 1481.8,302.4C1479.3,301.6 1475.9,300.6 1474.4,299.1C1472.9,297.6 1472.2,294.7 1471.9,292.5C1471.7,290.2 1472.2,285.9 1472.7,284.2C1473.2,282.4 1476.1,281.9 1475.2,280.9C1474.3,279.9 1469.0,277.8 1467.0,277.5C1465.0,277.2 1463.2,279.1 1462.0,278.9C1460.9,278.6 1461.1,276.1 1459.6,275.9C1458.1,275.7 1453.3,278.0 1452.2,277.5C1451.1,277.1 1453.4,272.3 1452.2,272.9C1451.0,273.5 1445.7,279.6 1444.0,281.7C1442.2,283.8 1441.7,286.3 1440.7,287.2C1439.7,288.0 1437.5,288.6 1437.4,287.5Z"/>
<path d="M1591.1,414.7C1591.0,413.7 1586.0,416.2 1586.2,416.0C1586.3,415.7 1589.3,414.3 1591.9,413.0C1594.5,411.8 1600.0,408.7 1603.4,407.8C1606.9,406.9 1611.5,406.2 1614.9,407.0C1618.4,407.7 1623.1,411.9 1626.4,413.0C1629.8,414.2 1635.2,413.3 1637.1,414.7C1639.1,416.1 1639.5,419.7 1639.6,422.6C1639.7,425.5 1637.7,430.9 1638.0,434.1C1638.2,437.3 1640.3,441.9 1641.2,444.0C1642.2,446.1 1643.5,446.6 1644.5,448.1C1645.5,449.6 1646.6,452.6 1647.8,453.8C1649.1,455.1 1650.8,455.9 1652.8,456.3C1654.7,456.7 1658.8,457.3 1661.0,456.3C1663.2,455.3 1665.3,452.4 1667.5,449.7C1669.8,447.0 1673.1,441.0 1675.8,438.2C1678.5,435.4 1681.9,432.8 1685.6,430.8C1689.3,428.8 1696.2,425.0 1700.4,425.0C1704.6,425.0 1708.9,428.6 1713.6,430.8C1718.3,433.0 1726.7,438.0 1731.7,439.8C1736.6,441.7 1742.8,442.2 1746.5,443.1C1750.2,444.0 1751.9,444.0 1756.3,445.9C1760.8,447.9 1770.4,453.6 1776.1,456.3C1781.7,459.0 1789.7,461.6 1794.1,463.7C1798.6,465.8 1802.2,468.3 1805.6,470.3C1809.1,472.3 1813.9,474.9 1817.2,476.9C1820.4,478.9 1824.1,481.5 1827.0,483.5C1830.0,485.5 1833.9,488.1 1836.9,490.1C1839.8,492.1 1843.8,494.7 1846.7,496.7C1849.7,498.7 1853.8,501.3 1856.6,503.3C1859.4,505.3 1864.9,508.3 1865.6,509.9C1866.4,511.6 1862.0,512.5 1861.5,514.1C1861.0,515.7 1861.5,518.3 1862.4,520.7C1863.2,523.1 1865.8,527.2 1867.3,529.8C1868.8,532.4 1870.9,535.6 1872.2,538.1C1873.6,540.6 1873.7,544.7 1876.3,546.4C1878.9,548.2 1887.5,546.0 1889.5,549.8C1891.5,553.5 1891.5,568.6 1889.5,571.5C1887.5,574.3 1880.0,569.6 1876.3,568.9C1872.6,568.3 1868.4,569.0 1864.8,567.3C1861.3,565.5 1855.7,559.9 1852.5,557.3C1849.3,554.6 1846.3,552.9 1843.5,549.8C1840.6,546.7 1835.6,539.1 1833.6,536.5C1831.6,533.9 1832.8,533.3 1830.3,532.3C1827.8,531.3 1820.4,530.7 1817.2,529.8C1813.9,529.0 1810.9,527.3 1808.9,526.5C1807.0,525.8 1806.2,524.1 1804.0,524.9C1801.8,525.6 1795.9,529.5 1794.1,531.5C1792.4,533.5 1793.7,536.4 1792.5,538.1C1791.3,539.9 1786.7,541.2 1785.9,543.1C1785.2,545.0 1788.8,549.1 1787.6,550.6C1786.3,552.1 1780.7,552.7 1777.7,553.1C1774.7,553.5 1771.8,553.4 1767.8,553.1C1763.9,552.9 1756.3,553.7 1751.4,551.4C1746.5,549.2 1739.9,540.6 1735.0,538.1C1730.0,535.6 1723.2,534.6 1718.5,534.8C1713.8,535.1 1707.0,539.0 1703.7,539.8C1700.4,540.5 1696.8,542.3 1696.3,539.8C1695.8,537.3 1697.6,526.2 1700.4,523.2C1703.3,520.2 1713.5,521.9 1715.2,519.9C1717.0,517.9 1713.7,513.7 1711.9,509.9C1710.2,506.2 1706.2,498.5 1703.7,495.1C1701.2,491.6 1698.7,489.0 1695.5,486.8C1692.3,484.6 1686.5,481.9 1682.3,480.2C1678.2,478.5 1671.5,476.2 1667.5,475.3C1663.6,474.3 1659.2,474.6 1656.0,473.6C1652.8,472.6 1648.6,470.1 1646.2,468.7C1643.7,467.2 1641.8,465.0 1639.6,463.7C1637.4,462.5 1633.4,459.9 1631.4,460.4C1629.4,460.9 1628.4,465.9 1626.4,467.0C1624.5,468.1 1619.8,468.8 1618.2,467.8C1616.6,466.8 1618.0,463.3 1615.8,460.4C1613.5,457.6 1604.5,451.0 1603.4,448.9C1602.3,446.8 1605.9,447.5 1608.4,446.4C1610.8,445.3 1616.4,442.1 1619.9,441.5C1623.3,440.9 1629.9,442.9 1631.4,442.3C1632.9,441.7 1632.2,438.0 1629.7,437.4C1627.3,436.8 1618.6,438.6 1614.9,438.2C1611.2,437.8 1607.0,436.4 1605.1,434.9C1603.1,433.4 1603.8,429.8 1601.8,428.3C1599.8,426.8 1594.1,425.9 1591.9,425.0C1589.7,424.2 1587.1,424.1 1587.0,422.6C1586.9,421.0 1591.2,415.7 1591.1,414.7Z"/>
<path d="M1486.7,695.2C1453.4,693.1 1487.6,685.0 1488.4,681.4C1489.1,677.8 1490.7,674.5 1491.6,671.1C1492.6,667.8 1493.7,662.0 1494.9,659.2C1496.2,656.4 1498.4,654.4 1499.9,652.4C1501.3,650.3 1502.6,648.1 1504.8,645.6C1507.0,643.0 1512.3,637.8 1514.7,635.4C1517.0,633.0 1518.7,629.5 1520.4,629.5C1522.1,629.5 1524.1,633.5 1526.2,635.4C1528.3,637.3 1532.3,640.1 1534.4,642.2C1536.5,644.2 1538.4,647.4 1540.1,649.0C1541.9,650.5 1543.8,652.4 1545.9,652.4C1548.0,652.4 1551.9,649.9 1554.1,649.0C1556.3,648.1 1559.2,648.5 1560.7,646.4C1562.2,644.4 1562.7,638.6 1564.0,635.4C1565.2,632.2 1567.4,627.8 1568.9,625.2C1570.4,622.7 1572.7,620.5 1573.8,618.5C1574.9,616.4 1574.7,613.5 1576.3,611.7C1577.9,609.9 1581.9,607.9 1584.5,606.7C1587.1,605.4 1590.7,603.9 1593.6,603.3C1596.4,602.7 1600.7,602.7 1603.4,602.5C1606.1,602.2 1610.2,603.3 1611.7,601.6C1613.1,600.0 1614.8,593.6 1613.3,591.5C1611.8,589.5 1602.8,589.1 1601.8,588.2C1600.8,587.3 1604.0,585.0 1606.7,585.7C1609.4,586.3 1615.7,590.6 1619.9,592.4C1624.1,594.1 1629.7,596.0 1634.7,597.4C1639.6,598.8 1647.6,601.2 1652.8,601.6C1657.9,602.0 1664.8,599.7 1669.2,599.9C1673.6,600.2 1680.7,601.0 1682.3,603.3C1683.9,605.6 1681.9,612.3 1679.9,615.1C1677.9,617.9 1671.0,618.8 1669.2,621.8C1667.3,624.9 1669.0,631.6 1667.5,635.4C1666.1,639.2 1659.7,644.5 1659.3,647.3C1659.0,650.1 1661.9,651.3 1665.1,654.1C1668.3,656.9 1676.4,663.2 1680.7,666.0C1685.0,668.8 1690.6,670.4 1693.9,672.9C1697.1,675.3 1699.6,678.9 1702.1,682.3C1704.5,685.6 1742.6,693.3 1710.3,695.2C1678.0,697.1 1520.0,697.3 1486.7,695.2Z"/>
<path d="M1573.8,593.2C1574.8,592.0 1576.8,588.9 1578.8,588.2C1580.7,587.4 1584.3,587.9 1587.0,588.2C1589.7,588.4 1595.6,589.0 1596.9,589.9C1598.1,590.7 1596.9,592.9 1595.2,594.1C1593.5,595.2 1588.1,596.9 1585.3,597.4C1582.6,597.9 1579.1,597.5 1577.1,597.4C1575.2,597.3 1572.7,597.2 1572.2,596.6C1571.7,595.9 1572.9,594.5 1573.8,593.2Z"/>
<path d="M1753.0,695.2C1742.4,691.6 1757.2,676.6 1758.0,671.1C1758.7,665.7 1757.5,663.5 1758.0,659.2C1758.5,654.8 1761.0,647.3 1761.3,642.2C1761.5,637.1 1759.6,630.0 1759.6,625.2C1759.6,620.4 1760.3,613.8 1761.3,610.0C1762.2,606.2 1765.0,604.0 1766.2,599.9C1767.4,595.9 1768.0,586.4 1769.5,583.2C1771.0,579.9 1774.1,577.4 1776.1,578.1C1778.0,578.9 1780.9,584.9 1782.6,588.2C1784.4,591.5 1786.1,595.9 1787.6,599.9C1789.0,604.0 1791.5,610.5 1792.5,615.1C1793.5,619.6 1793.1,626.5 1794.1,630.3C1795.1,634.1 1796.8,639.3 1799.1,640.5C1801.3,641.6 1805.5,636.4 1808.9,637.9C1812.4,639.5 1820.1,647.5 1822.1,650.7C1824.1,653.9 1821.7,655.9 1822.1,659.2C1822.5,662.5 1823.6,667.5 1824.5,672.9C1825.5,678.3 1839.4,691.9 1828.7,695.2C1817.9,698.6 1763.6,698.8 1753.0,695.2Z"/>
</g>
<g fill="#f4f2ed">
<path d="M1056.0,182.2C1053.1,184.5 1056.2,193.6 1056.3,197.4C1056.4,201.2 1056.7,204.2 1056.8,207.5C1056.9,210.8 1057.8,216.2 1057.3,219.2C1056.8,222.3 1054.2,225.1 1053.5,227.6C1052.8,230.1 1053.1,233.5 1052.7,236.0C1052.3,238.5 1051.7,241.5 1051.0,244.3C1050.4,247.0 1049.1,251.4 1048.6,254.3C1048.1,257.2 1047.7,260.7 1047.8,263.4C1047.8,266.2 1048.2,271.7 1049.1,272.6C1049.9,273.4 1052.0,269.5 1053.5,269.3C1055.0,269.0 1057.5,269.3 1059.3,270.9C1061.0,272.5 1063.3,277.5 1065.0,280.0C1066.7,282.5 1068.9,285.4 1070.8,287.5C1072.6,289.6 1075.9,292.1 1077.4,294.1C1078.8,296.1 1079.9,298.1 1080.6,300.7C1081.4,303.3 1082.0,308.4 1082.3,311.5C1082.6,314.6 1082.1,318.3 1082.6,321.4C1083.1,324.5 1084.5,329.3 1085.6,332.1C1086.6,334.9 1088.2,337.5 1089.7,340.0C1091.2,342.5 1094.1,346.7 1095.4,349.1C1096.8,351.4 1097.1,353.7 1098.7,355.6C1100.3,357.6 1103.9,360.4 1106.1,362.2C1108.3,364.1 1110.9,366.1 1113.5,368.0C1116.1,369.8 1120.5,372.8 1123.4,374.6C1126.2,376.3 1130.1,378.9 1132.4,379.8C1134.8,380.7 1137.2,380.6 1139.0,380.6C1140.9,380.6 1143.4,380.3 1144.8,379.8C1146.1,379.3 1147.5,378.8 1147.7,377.4C1148.0,375.9 1147.3,372.3 1146.4,370.0C1145.5,367.6 1143.2,364.2 1141.5,361.7C1139.7,359.3 1136.0,356.2 1134.9,353.5C1133.8,350.8 1134.3,346.3 1134.1,343.6C1133.9,340.9 1133.6,337.9 1133.6,335.4C1133.6,332.9 1134.4,329.6 1134.1,327.1C1133.8,324.7 1132.7,321.4 1131.6,318.9C1130.5,316.4 1128.4,312.9 1126.7,310.6C1124.9,308.4 1122.1,305.8 1120.1,304.0C1118.1,302.3 1115.5,300.6 1113.5,299.1C1111.5,297.6 1109.2,295.8 1106.9,294.1C1104.7,292.4 1100.9,288.9 1098.7,287.5C1096.5,286.1 1094.0,286.0 1092.1,285.0C1090.3,284.0 1087.8,283.0 1086.4,280.9C1085.0,278.7 1084.2,273.9 1083.1,270.9C1082.0,267.9 1080.0,263.9 1079.0,260.9C1078.0,258.0 1078.0,252.8 1076.5,251.0C1075.1,249.1 1070.9,249.7 1069.1,248.5C1067.4,247.2 1065.8,245.0 1065.0,242.6C1064.3,240.3 1064.0,235.6 1064.2,232.6C1064.4,229.6 1065.8,225.3 1066.7,222.6C1067.5,219.8 1069.0,216.7 1070.0,214.2C1070.9,211.7 1072.1,208.1 1072.7,205.8C1073.4,203.6 1073.7,201.1 1074.1,199.1C1074.4,197.1 1074.6,194.9 1074.9,192.4C1075.1,189.8 1078.5,183.8 1075.7,182.2C1072.9,180.7 1058.9,180.0 1056.0,182.2Z"/>
<path d="M1122.6,182.2C1106.5,184.3 1123.0,192.6 1123.4,195.7C1123.8,198.9 1124.4,201.0 1125.0,203.3C1125.6,205.6 1126.9,208.5 1127.5,210.9C1128.1,213.2 1128.0,217.0 1129.1,219.2C1130.2,221.5 1133.0,224.7 1134.9,225.9C1136.7,227.2 1139.5,227.4 1141.5,227.6C1143.4,227.9 1145.9,227.0 1148.0,227.6C1150.1,228.2 1153.6,230.4 1155.4,231.8C1157.3,233.2 1160.1,234.9 1160.4,236.8C1160.6,238.7 1157.7,241.9 1157.1,244.3C1156.5,246.7 1156.4,250.4 1156.3,252.6C1156.1,254.9 1155.2,258.4 1155.9,259.3C1156.7,260.2 1159.5,259.3 1161.2,258.5C1162.8,257.6 1165.2,255.0 1167.0,253.5C1168.7,252.0 1170.7,249.8 1172.7,248.5C1174.7,247.1 1178.1,245.9 1180.1,244.3C1182.1,242.7 1184.5,239.6 1185.9,237.6C1187.2,235.6 1187.8,232.2 1189.1,230.9C1190.5,229.7 1192.9,229.9 1194.9,229.3C1196.9,228.7 1200.0,228.1 1202.3,226.8C1204.6,225.4 1207.9,221.7 1210.5,220.1C1213.1,218.4 1217.3,217.3 1219.6,215.9C1221.8,214.5 1224.0,212.6 1225.3,210.9C1226.7,209.1 1228.1,206.2 1228.6,204.1C1229.1,202.1 1228.7,200.7 1228.9,197.4C1229.2,194.1 1246.2,184.5 1230.2,182.2C1214.3,180.0 1138.6,180.2 1122.6,182.2Z"/>
<path d="M1001.7,312.6C1002.3,311.8 1005.4,312.1 1007.5,312.6C1009.6,313.1 1012.7,315.0 1015.7,315.9C1018.7,316.9 1024.3,318.0 1027.2,318.9C1030.2,319.8 1033.3,320.8 1035.4,322.2C1037.5,323.6 1039.6,326.2 1041.2,328.0C1042.8,329.7 1044.3,332.1 1046.1,333.7C1048.0,335.3 1050.7,336.8 1053.5,338.7C1056.3,340.5 1061.7,344.1 1065.0,346.1C1068.4,348.1 1072.9,350.0 1075.7,351.9C1078.5,353.8 1081.5,356.9 1083.9,358.8C1086.4,360.6 1089.3,362.4 1092.1,364.2C1095.0,366.0 1099.8,369.1 1102.8,370.8C1105.9,372.5 1110.0,374.0 1112.7,375.7C1115.4,377.4 1118.6,380.4 1120.9,382.3C1123.3,384.1 1126.3,386.4 1128.3,388.0C1130.3,389.7 1132.5,391.3 1134.1,393.0C1135.7,394.7 1138.9,397.2 1139.0,399.6C1139.1,401.9 1135.1,406.0 1134.9,408.6C1134.6,411.2 1135.3,415.3 1137.4,416.8C1139.5,418.3 1146.8,416.6 1148.9,418.5C1151.0,420.3 1150.0,426.2 1151.3,429.2C1152.7,432.1 1155.3,436.5 1157.9,438.2C1160.5,439.9 1165.9,438.9 1168.6,440.7C1171.3,442.4 1175.0,446.5 1176.0,449.7C1177.0,452.9 1175.5,458.5 1175.2,462.1C1174.8,465.7 1173.6,470.4 1173.5,473.6C1173.4,476.8 1174.5,480.2 1174.3,483.5C1174.2,486.8 1174.2,494.4 1172.7,495.9C1171.2,497.4 1166.2,493.3 1164.5,493.4C1162.8,493.5 1162.9,496.7 1161.2,496.7C1159.5,496.7 1154.3,493.2 1153.0,493.4C1151.6,493.7 1153.0,498.5 1152.2,498.4C1151.3,498.2 1148.9,494.4 1147.2,492.6C1145.5,490.7 1143.0,487.8 1140.6,486.0C1138.3,484.1 1134.3,482.4 1131.6,480.2C1128.9,478.0 1125.2,473.6 1122.6,471.1C1120.0,468.7 1117.2,466.7 1114.3,463.7C1111.5,460.8 1106.6,454.9 1103.7,451.4C1100.7,447.8 1096.6,442.9 1094.6,439.8C1092.6,436.8 1092.2,434.3 1090.5,430.8C1088.8,427.3 1085.4,420.6 1083.1,416.8C1080.8,413.0 1077.6,408.3 1074.9,405.3C1072.2,402.4 1067.0,400.0 1065.0,397.1C1063.0,394.1 1062.6,389.2 1061.7,385.6C1060.9,382.0 1060.7,376.2 1059.3,373.2C1057.8,370.3 1054.2,367.6 1051.9,365.8C1049.5,364.1 1046.0,363.8 1043.6,361.7C1041.3,359.6 1038.3,354.8 1036.3,351.9C1034.2,348.9 1032.4,344.6 1029.7,342.0C1027.0,339.4 1021.3,337.0 1018.2,334.6C1015.1,332.1 1011.3,328.0 1009.1,325.5C1006.9,323.0 1004.5,320.0 1003.4,318.1C1002.3,316.1 1001.1,313.4 1001.7,312.6Z"/>
<path d="M1163.7,513.3C1163.8,512.4 1167.1,509.7 1168.6,508.3C1170.1,506.9 1172.4,505.6 1173.5,504.2C1174.6,502.7 1174.6,499.0 1176.0,498.4C1177.3,497.7 1180.5,499.6 1182.6,500.0C1184.7,500.5 1187.7,501.5 1190.0,501.3C1192.2,501.2 1194.9,498.8 1197.4,499.2C1199.8,499.5 1203.8,502.9 1206.4,503.7C1209.0,504.4 1212.7,503.0 1214.6,504.2C1216.6,505.3 1217.5,510.1 1219.6,511.6C1221.7,513.1 1225.9,513.7 1228.6,514.1C1231.3,514.5 1234.8,514.2 1237.6,514.4C1240.5,514.6 1245.3,516.5 1247.5,515.4C1249.7,514.3 1250.8,508.2 1252.4,507.0C1254.0,505.8 1256.1,506.8 1258.2,507.5C1260.3,508.1 1263.7,510.2 1266.4,511.3C1269.1,512.4 1273.6,514.2 1276.3,514.9C1279.0,515.6 1282.8,514.9 1284.5,515.7C1286.2,516.6 1286.8,519.0 1287.8,520.7C1288.8,522.4 1289.6,525.7 1291.1,526.8C1292.6,528.0 1295.2,528.4 1297.6,528.5C1300.1,528.7 1305.0,527.6 1307.5,527.8C1310.0,528.0 1313.4,528.5 1314.4,529.8C1315.4,531.1 1313.8,534.2 1314.1,536.5C1314.4,538.8 1316.8,544.1 1316.6,545.1C1316.3,546.2 1314.5,544.1 1312.4,543.5C1310.3,542.8 1305.8,541.4 1302.6,540.6C1299.4,539.8 1294.5,538.4 1291.1,538.1C1287.6,537.9 1282.9,539.0 1279.6,539.0C1276.2,539.0 1272.1,538.5 1268.9,538.1C1265.7,537.8 1261.5,537.6 1258.2,536.8C1254.9,536.1 1249.9,534.2 1246.7,533.1C1243.5,532.1 1240.0,530.5 1236.8,529.8C1233.6,529.1 1228.5,528.6 1225.3,528.5C1222.1,528.5 1218.7,529.6 1215.4,529.5C1212.2,529.4 1207.4,528.7 1203.9,527.8C1200.5,527.0 1195.4,525.0 1192.4,524.0C1189.5,523.1 1185.6,522.7 1184.2,521.5C1182.9,520.4 1184.6,517.6 1183.4,516.6C1182.2,515.5 1178.3,515.0 1176.0,514.6C1173.6,514.2 1169.6,514.3 1167.8,514.1C1165.9,513.9 1163.5,514.1 1163.7,513.3Z"/>
<path d="M1314.8,535.0C1316.1,534.3 1323.1,534.4 1326.1,535.1C1329.2,535.8 1334.3,538.2 1335.2,539.6C1336.2,541.0 1333.6,543.5 1332.3,544.4C1331.0,545.4 1328.9,546.7 1326.7,545.9C1324.5,545.2 1319.3,541.1 1317.5,539.4C1315.7,537.8 1313.6,535.6 1314.8,535.0Z"/>
<path d="M1337.9,540.8C1338.1,539.5 1340.0,538.5 1341.9,538.2C1343.9,538.0 1349.6,537.9 1351.0,539.1C1352.4,540.3 1352.7,545.2 1351.2,546.4C1349.6,547.6 1342.5,547.7 1340.5,546.9C1338.5,546.0 1337.7,542.1 1337.9,540.8Z"/>
<path d="M1352.9,542.5C1353.7,541.4 1356.6,541.3 1358.7,541.1C1360.7,540.9 1364.7,541.6 1366.8,541.1C1368.9,540.5 1371.0,537.9 1372.7,537.6C1374.4,537.3 1378.1,538.4 1378.3,539.2C1378.5,540.0 1373.3,542.9 1374.1,543.0C1374.8,543.0 1380.6,540.2 1383.2,539.6C1385.8,539.0 1390.5,538.0 1391.4,538.7C1392.4,539.4 1391.3,543.1 1389.5,544.2C1387.8,545.2 1382.6,545.3 1379.6,545.8C1376.7,546.2 1372.7,546.5 1369.8,547.0C1366.8,547.4 1362.4,548.7 1359.9,548.9C1357.4,549.1 1354.4,549.5 1353.4,548.5C1352.3,547.6 1352.1,543.7 1352.9,542.5Z"/>
<path d="M1403.8,541.7C1405.3,540.6 1410.9,539.0 1414.5,539.0C1418.1,539.0 1423.9,541.2 1427.6,541.5C1431.2,541.7 1435.3,541.6 1439.0,540.8C1442.8,540.1 1449.8,536.6 1452.3,536.3C1454.8,536.0 1455.5,537.7 1455.5,538.6C1455.5,539.5 1454.6,541.4 1452.1,542.3C1449.6,543.3 1442.6,544.4 1438.9,545.0C1435.2,545.7 1431.1,546.4 1427.4,546.5C1423.7,546.6 1417.7,545.7 1414.3,545.6C1410.9,545.5 1406.0,546.4 1404.5,545.8C1402.9,545.2 1402.3,542.7 1403.8,541.7Z"/>
<path d="M1388.9,557.1C1389.6,556.3 1396.2,556.2 1399.2,556.5C1402.2,556.8 1406.0,557.7 1409.0,559.3C1412.0,560.8 1418.0,565.2 1419.1,566.9C1420.2,568.5 1418.1,569.8 1416.2,570.1C1414.4,570.4 1409.8,569.9 1406.6,568.7C1403.4,567.5 1397.6,564.1 1394.9,562.4C1392.3,560.6 1388.3,558.0 1388.9,557.1Z"/>
<path d="M1459.9,573.9C1459.6,573.0 1462.0,570.1 1464.0,567.8C1465.9,565.5 1470.4,560.6 1473.0,558.6C1475.6,556.5 1478.7,555.9 1481.2,554.3C1483.7,552.8 1487.0,549.7 1489.8,548.3C1492.5,546.8 1495.8,545.4 1499.4,544.4C1502.9,543.5 1509.3,542.7 1513.2,541.9C1517.2,541.0 1524.6,538.7 1525.7,538.9C1526.8,539.1 1522.9,541.8 1520.4,543.3C1517.9,544.7 1512.9,546.9 1509.1,548.5C1505.2,550.2 1498.1,552.5 1494.7,554.2C1491.2,556.0 1488.9,558.4 1486.1,560.3C1483.3,562.3 1479.0,565.3 1476.0,567.3C1472.9,569.3 1468.3,572.6 1465.9,573.6C1463.5,574.6 1460.2,574.7 1459.9,573.9Z"/>
<path d="M1638.8,491.8C1640.3,490.4 1646.1,489.0 1647.8,490.9C1649.5,492.9 1650.7,501.4 1650.3,505.0C1649.9,508.6 1647.1,513.7 1645.4,514.9C1643.6,516.2 1639.9,515.5 1638.8,513.3C1637.7,511.0 1638.0,503.2 1638.0,500.0C1638.0,496.8 1637.3,493.1 1638.8,491.8Z"/>
<path d="M1355.2,289.1C1356.8,289.5 1359.8,292.2 1361.8,293.3C1363.7,294.4 1366.4,294.9 1368.3,296.6C1370.3,298.3 1372.7,303.0 1374.9,304.9C1377.1,306.7 1380.3,307.5 1383.1,309.0C1386.0,310.5 1393.8,313.2 1393.8,314.8C1393.8,316.3 1385.7,318.0 1383.1,319.4C1380.5,320.8 1376.6,322.6 1376.6,323.8C1376.6,325.1 1383.9,326.9 1383.1,328.0C1382.4,329.1 1374.1,330.4 1371.6,331.3C1369.2,332.1 1367.3,331.9 1366.7,333.7C1366.1,335.6 1367.9,340.9 1367.5,343.6C1367.1,346.3 1363.9,349.4 1364.2,351.9C1364.6,354.3 1368.5,358.0 1370.0,360.1C1371.5,362.2 1374.0,364.0 1374.1,365.8C1374.2,367.7 1369.9,370.3 1370.8,372.4C1371.7,374.5 1377.0,378.0 1379.8,379.8C1382.7,381.7 1388.8,383.6 1389.7,384.8C1390.6,385.9 1388.1,387.4 1385.6,387.7C1383.1,388.0 1376.0,385.8 1373.3,386.7C1370.6,387.6 1368.8,391.5 1367.5,393.8C1366.3,396.1 1365.3,399.4 1365.1,402.0C1364.8,404.6 1367.1,408.2 1365.9,411.1C1364.6,413.9 1359.3,418.1 1356.8,420.9C1354.4,423.8 1350.9,427.3 1349.4,430.0C1348.0,432.7 1347.0,436.2 1347.0,439.0C1347.0,441.9 1349.7,446.2 1349.4,448.9C1349.2,451.6 1346.6,454.5 1345.3,457.1C1344.1,459.7 1342.9,465.3 1341.2,466.2C1339.5,467.1 1337.0,462.4 1333.8,462.9C1330.6,463.4 1322.4,470.1 1319.8,469.5C1317.3,468.9 1318.2,460.5 1316.6,458.8C1315.0,457.0 1311.7,458.0 1309.2,458.0C1306.6,458.0 1302.0,458.9 1299.3,458.8C1296.6,458.7 1293.5,457.1 1291.1,457.1C1288.6,457.1 1285.7,458.3 1282.9,458.8C1280.0,459.2 1274.4,461.1 1272.2,460.1C1269.9,459.1 1270.2,453.9 1268.1,452.2C1266.0,450.5 1260.9,450.1 1258.2,448.9C1255.5,447.7 1251.9,445.7 1250.0,444.0C1248.0,442.2 1246.1,439.6 1245.0,437.4C1243.9,435.2 1243.2,431.1 1242.6,429.2C1242.0,427.2 1242.4,426.2 1240.9,424.2C1239.5,422.2 1234.6,418.5 1232.7,416.0C1230.9,413.5 1229.3,410.2 1228.6,407.8C1227.9,405.3 1228.4,401.8 1227.8,399.6C1227.2,397.3 1225.1,395.3 1224.5,393.0C1223.9,390.6 1223.4,386.5 1223.7,383.9C1223.9,381.3 1224.3,378.2 1226.1,375.7C1228.0,373.2 1233.2,367.9 1236.0,367.5C1238.8,367.1 1242.7,371.8 1245.0,372.9C1247.4,374.0 1249.6,374.3 1251.6,374.9C1253.6,375.4 1256.5,377.6 1258.2,376.5C1259.9,375.4 1262.1,370.0 1263.1,367.5C1264.1,365.0 1263.0,362.2 1264.8,360.1C1266.5,358.0 1271.2,355.0 1274.6,353.5C1278.1,352.0 1284.8,351.4 1287.8,350.2C1290.7,349.0 1292.5,347.1 1294.4,345.3C1296.2,343.4 1298.1,340.5 1300.1,337.9C1302.1,335.3 1305.2,330.2 1307.5,328.0C1309.9,325.7 1313.4,324.4 1315.7,323.0C1318.1,321.7 1320.9,320.3 1323.1,318.9C1325.3,317.5 1328.8,315.4 1330.5,313.9C1332.3,312.5 1333.0,310.7 1334.6,309.0C1336.2,307.3 1339.6,304.2 1341.2,302.4C1342.8,300.5 1343.8,298.3 1345.3,296.6C1346.8,294.9 1349.6,291.9 1351.1,290.8C1352.6,289.7 1353.6,288.8 1355.2,289.1Z"/>
<path d="M1492.5,374.9C1492.0,374.2 1487.4,375.6 1485.1,376.5C1482.7,377.5 1480.0,380.1 1476.8,381.5C1473.6,382.8 1467.4,385.1 1463.7,385.6C1460.0,386.1 1455.9,385.0 1452.2,384.8C1448.5,384.5 1442.5,384.3 1439.0,383.9C1435.6,383.6 1431.9,382.9 1429.2,382.3C1426.5,381.7 1423.0,379.5 1420.9,379.8C1418.9,380.2 1416.9,383.4 1415.2,384.8C1413.5,386.1 1410.9,386.9 1409.4,388.9C1408.0,390.8 1406.1,395.3 1405.3,397.9C1404.6,400.5 1404.7,403.9 1404.5,406.1C1404.3,408.4 1405.0,411.1 1404.2,413.0C1403.3,415.0 1400.2,417.1 1398.8,419.3C1397.3,421.5 1395.9,424.8 1394.6,427.5C1393.4,430.2 1391.7,434.8 1390.5,437.4C1389.4,440.0 1387.2,442.6 1386.8,444.8C1386.3,447.0 1386.4,450.2 1387.2,452.2C1388.1,454.2 1390.6,457.0 1392.2,458.0C1393.8,458.9 1396.8,457.4 1397.9,458.8C1399.0,460.1 1399.7,464.3 1399.6,467.0C1399.5,469.7 1397.6,474.1 1397.1,476.9C1396.6,479.8 1396.2,483.5 1396.3,486.0C1396.4,488.5 1396.5,492.3 1397.9,493.4C1399.4,494.5 1403.8,493.1 1406.2,493.1C1408.5,493.1 1412.7,494.8 1413.5,493.4C1414.4,492.0 1412.3,487.5 1411.9,483.5C1411.5,479.5 1411.0,471.2 1411.1,467.0C1411.2,462.8 1412.9,458.1 1412.7,455.5C1412.6,452.9 1409.8,451.2 1410.3,449.7C1410.8,448.2 1414.3,446.3 1416.0,445.6C1417.7,444.9 1420.5,444.3 1421.8,444.8C1423.0,445.3 1424.0,447.0 1424.2,448.9C1424.5,450.7 1422.6,454.5 1423.4,457.1C1424.3,459.7 1428.6,464.3 1430.0,466.2C1431.3,468.0 1432.2,467.9 1432.5,469.5C1432.7,471.1 1430.9,475.2 1431.6,476.9C1432.4,478.6 1435.7,480.4 1437.4,481.0C1439.1,481.6 1441.4,482.0 1443.1,481.0C1444.9,480.0 1447.9,476.5 1448.9,474.4C1449.9,472.3 1450.3,469.4 1449.7,467.0C1449.1,464.7 1445.8,461.1 1444.8,458.8C1443.8,456.4 1444.3,453.5 1443.1,451.4C1442.0,449.3 1439.0,446.9 1437.4,444.8C1435.8,442.7 1433.9,439.2 1432.5,437.4C1431.0,435.5 1427.2,433.2 1427.5,432.4C1427.9,431.7 1432.7,433.2 1434.9,432.4C1437.1,431.7 1439.7,429.2 1442.3,427.5C1444.9,425.8 1449.5,422.4 1452.2,420.9C1454.9,419.4 1458.7,418.4 1460.4,417.6C1462.1,416.9 1463.4,416.9 1463.7,416.0C1463.9,415.1 1463.5,412.3 1462.0,411.9C1460.6,411.5 1456.5,412.9 1453.8,413.5C1451.1,414.1 1446.9,415.6 1444.0,416.0C1441.0,416.4 1436.8,415.0 1434.1,416.0C1431.4,417.0 1428.2,421.3 1425.9,422.6C1423.5,423.8 1420.2,424.8 1418.5,424.2C1416.8,423.6 1415.7,419.6 1414.4,418.5C1413.0,417.3 1410.6,417.7 1409.4,416.3C1408.3,415.0 1407.1,411.6 1406.6,409.4C1406.2,407.3 1406.5,404.1 1406.6,402.0C1406.8,399.9 1406.9,396.9 1407.8,395.4C1408.7,394.0 1410.8,392.4 1412.7,392.2C1414.7,391.9 1418.2,393.6 1420.9,393.8C1423.7,394.0 1427.4,393.5 1430.8,393.5C1434.3,393.4 1440.1,393.4 1444.0,393.3C1447.8,393.2 1453.1,392.5 1456.3,393.0C1459.5,393.4 1462.3,396.0 1465.3,396.3C1468.4,396.5 1474.1,395.9 1476.8,394.6C1479.6,393.4 1481.7,390.0 1483.4,388.0C1485.1,386.1 1487.0,383.4 1488.4,381.5C1489.7,379.5 1493.0,375.6 1492.5,374.9Z"/>
<path d="M1448.9,482.7C1450.1,480.5 1455.6,474.6 1457.1,475.3C1458.6,475.9 1459.4,484.0 1458.8,486.8C1458.1,489.7 1454.5,493.7 1453.0,494.2C1451.5,494.7 1449.5,491.8 1448.9,490.1C1448.3,488.4 1447.7,484.9 1448.9,482.7Z"/>
<path d="M1504.8,453.0C1506.1,451.9 1511.7,450.9 1514.7,451.4C1517.6,451.9 1523.3,454.7 1524.5,456.3C1525.8,457.9 1524.4,460.8 1522.9,462.1C1521.4,463.3 1517.2,465.0 1514.7,464.5C1512.1,464.0 1507.1,460.5 1505.6,458.8C1504.1,457.0 1503.4,454.1 1504.8,453.0Z"/>
<path d="M1536.0,454.7C1536.5,453.3 1538.2,449.2 1541.0,448.1C1543.7,447.0 1549.9,447.1 1554.1,447.3C1558.3,447.4 1564.5,447.7 1568.9,448.9C1573.3,450.1 1581.3,453.1 1583.7,455.5C1586.1,457.8 1586.8,464.2 1584.9,464.5C1582.9,464.9 1573.9,458.9 1570.6,458.0C1567.2,457.0 1565.0,458.3 1562.3,458.0C1559.6,457.6 1555.2,455.5 1552.5,455.5C1549.8,455.5 1546.5,457.7 1544.2,458.0C1542.0,458.2 1538.9,457.6 1537.7,457.1C1536.4,456.6 1535.5,456.0 1536.0,454.7Z"/>
<path d="M1530.3,365.0C1531.4,363.7 1535.6,364.4 1536.8,365.8C1538.1,367.3 1538.6,372.5 1538.5,374.9C1538.4,377.2 1535.5,380.9 1536.0,381.5C1536.5,382.1 1539.8,379.9 1541.8,379.0C1543.8,378.1 1547.9,375.6 1549.2,375.7C1550.4,375.8 1551.1,378.1 1550.0,379.8C1548.9,381.6 1543.6,385.9 1541.8,387.2C1539.9,388.6 1537.3,388.1 1537.7,388.9C1538.0,389.6 1542.5,391.2 1544.2,392.2C1546.0,393.1 1548.7,394.6 1549.2,395.4C1549.7,396.3 1549.0,397.8 1547.5,397.9C1546.1,398.0 1541.0,395.9 1539.3,395.9C1537.6,395.9 1536.0,396.4 1536.0,397.9C1536.0,399.4 1538.0,403.5 1539.3,406.1C1540.7,408.8 1544.8,414.2 1545.1,415.7C1545.3,417.1 1542.3,417.2 1541.0,416.0C1539.6,414.8 1537.3,410.4 1536.0,407.8C1534.8,405.2 1533.4,401.4 1532.7,398.7C1532.1,396.0 1532.6,391.8 1531.9,389.7C1531.2,387.6 1528.5,387.0 1528.1,384.8C1527.8,382.5 1529.1,377.9 1529.5,374.9C1529.8,371.9 1529.2,366.4 1530.3,365.0Z"/>
<path d="M1161.2,432.4C1160.2,430.6 1164.2,427.7 1166.1,426.7C1168.1,425.7 1172.4,424.8 1174.3,425.9C1176.3,427.0 1177.2,431.4 1179.3,434.1C1181.4,436.8 1187.3,441.2 1188.3,444.0C1189.3,446.7 1187.7,451.4 1185.9,452.2C1184.0,452.9 1178.0,450.9 1176.0,448.9C1174.0,446.9 1174.9,441.5 1172.7,439.0C1170.5,436.6 1162.2,434.3 1161.2,432.4Z"/>
<path d="M1202.3,443.1C1203.5,442.1 1208.8,442.8 1210.5,444.0C1212.2,445.1 1214.3,448.9 1213.8,450.5C1213.3,452.1 1209.0,454.7 1207.2,454.7C1205.5,454.7 1203.0,452.3 1202.3,450.5C1201.6,448.8 1201.1,444.1 1202.3,443.1Z"/>
<path d="M1139.0,381.8C1140.0,381.0 1144.2,381.3 1146.4,381.1C1148.6,381.0 1152.5,379.8 1153.8,380.6C1155.1,381.5 1155.4,385.0 1154.9,386.7C1154.5,388.5 1152.2,391.4 1150.5,392.2C1148.9,392.9 1145.5,392.5 1143.9,391.7C1142.3,390.8 1140.6,387.9 1139.8,386.4C1139.1,384.9 1138.0,382.6 1139.0,381.8Z"/>
<path d="M1029.7,377.4C1030.2,376.2 1034.2,375.3 1036.3,377.4C1038.3,379.5 1043.2,389.1 1043.6,391.3C1044.1,393.6 1041.1,393.1 1039.5,392.2C1037.9,391.2 1034.4,387.0 1033.0,384.8C1031.5,382.5 1029.2,378.5 1029.7,377.4Z"/>
<path d="M954.9,182.2C954.0,184.5 955.7,193.3 955.7,197.4C955.7,201.6 954.5,208.0 954.9,210.0C955.2,212.0 957.4,212.5 958.2,210.9C958.9,209.2 959.3,203.4 959.8,199.1C960.3,194.8 962.2,184.8 961.4,182.2C960.7,179.7 955.7,180.0 954.9,182.2Z"/>
<path d="M1360.1,262.9C1360.7,261.9 1363.9,259.3 1365.9,257.3C1367.8,255.2 1370.4,252.4 1373.3,249.3C1376.1,246.2 1381.7,240.0 1384.8,236.8C1387.9,233.5 1392.1,230.5 1393.8,227.6C1395.5,224.7 1395.4,219.2 1396.3,217.6C1397.2,215.9 1399.3,215.2 1399.6,216.7C1399.8,218.2 1399.5,224.2 1397.9,227.6C1396.3,231.0 1391.5,235.9 1388.9,239.3C1386.3,242.7 1383.0,247.7 1380.7,250.1C1378.3,252.6 1375.4,254.0 1373.3,255.6C1371.2,257.2 1368.4,259.6 1366.7,260.9C1365.0,262.2 1362.8,264.0 1361.8,264.3C1360.8,264.6 1359.5,264.0 1360.1,262.9Z"/>
<path d="M1420.1,182.2C1418.5,184.0 1420.3,191.5 1420.9,194.1C1421.6,196.6 1422.9,198.6 1424.2,199.1C1425.6,199.6 1428.9,199.9 1430.0,197.4C1431.1,194.9 1433.1,184.5 1431.6,182.2C1430.2,180.0 1421.7,180.5 1420.1,182.2Z"/>
<path d="M1437.4,204.1C1437.9,202.9 1438.5,205.3 1441.5,206.2C1444.5,207.0 1455.0,208.3 1457.1,210.0C1459.2,211.7 1456.8,215.3 1455.5,217.6C1454.1,219.8 1450.7,223.5 1448.1,225.1C1445.5,226.7 1439.7,230.1 1438.2,228.4C1436.7,226.8 1438.3,217.9 1438.2,214.2C1438.1,210.6 1436.9,205.4 1437.4,204.1Z"/>
<path d="M1445.6,236.8C1445.5,234.0 1446.7,230.1 1448.1,227.6C1449.4,225.1 1452.3,221.2 1454.7,220.1C1457.0,218.9 1462.8,218.4 1463.7,220.1C1464.6,221.7 1460.9,227.1 1460.4,230.9C1459.9,234.8 1461.1,242.8 1460.4,246.0C1459.7,249.1 1457.2,251.8 1455.5,251.8C1453.7,251.8 1450.4,248.2 1448.9,246.0C1447.4,243.7 1445.7,239.5 1445.6,236.8Z"/>
<path d="M1476.8,210.9C1478.1,210.0 1484.9,211.6 1486.7,213.4C1488.6,215.1 1488.3,219.8 1489.2,222.6C1490.0,225.3 1492.6,229.9 1492.5,231.8C1492.3,233.7 1489.6,235.0 1488.4,235.1C1487.1,235.2 1484.9,234.5 1484.2,232.6C1483.6,230.7 1485.1,224.6 1484.2,222.6C1483.4,220.6 1479.6,221.0 1478.5,219.2C1477.4,217.5 1475.6,211.7 1476.8,210.9Z"/>
<path d="M1475.2,193.2C1476.3,192.3 1482.4,193.2 1485.1,193.2C1487.8,193.2 1491.4,192.1 1493.3,193.2C1495.1,194.3 1496.3,197.1 1497.4,200.8C1498.5,204.4 1501.3,215.2 1500.7,217.6C1500.1,220.0 1495.1,217.4 1493.3,216.7C1491.4,216.1 1489.2,214.9 1488.4,213.4C1487.5,211.9 1489.1,208.8 1487.5,206.7C1485.9,204.5 1479.5,201.1 1477.7,199.1C1475.8,197.1 1474.1,194.1 1475.2,193.2Z"/>
<path d="M1457.9,193.2C1459.7,192.5 1468.0,195.7 1470.3,197.4C1472.5,199.2 1473.5,204.2 1472.7,205.0C1472.0,205.7 1467.4,202.9 1465.3,202.5C1463.2,202.0 1459.9,203.5 1458.8,202.1C1457.7,200.7 1456.2,193.9 1457.9,193.2Z"/>
<path d="M1437.4,287.5C1437.3,286.4 1439.4,282.5 1439.9,280.0C1440.3,277.5 1439.4,272.9 1440.7,270.9C1441.9,268.9 1445.9,268.4 1448.1,266.8C1450.3,265.1 1453.4,261.5 1455.5,260.1C1457.6,258.7 1460.1,256.6 1462.0,257.6C1464.0,258.6 1468.0,264.8 1468.6,266.8C1469.2,268.8 1465.2,271.0 1466.2,270.9C1467.1,270.8 1472.9,267.5 1475.2,265.9C1477.5,264.3 1480.3,262.1 1481.8,260.1C1483.3,258.1 1483.6,253.9 1485.1,252.6C1486.5,251.4 1490.0,251.9 1491.6,251.8C1493.2,251.7 1495.0,253.7 1495.8,251.8C1496.5,249.9 1495.3,240.4 1496.6,239.3C1497.8,238.2 1502.2,242.3 1504.0,244.3C1505.7,246.3 1507.1,249.9 1508.1,252.6C1509.1,255.4 1509.8,259.4 1510.5,262.6C1511.3,265.8 1512.4,271.5 1513.0,274.2C1513.6,277.0 1515.0,278.1 1514.7,280.9C1514.3,283.6 1511.5,290.0 1510.5,292.5C1509.6,294.9 1508.9,298.2 1508.1,297.4C1507.2,296.7 1506.0,289.8 1504.8,287.5C1503.6,285.1 1501.3,281.4 1499.9,281.7C1498.4,281.9 1495.7,286.5 1494.9,289.1C1494.2,291.8 1494.2,296.2 1494.9,299.1C1495.6,301.9 1499.5,306.7 1499.5,308.2C1499.5,309.7 1496.2,309.6 1494.9,309.0C1493.6,308.4 1492.8,305.0 1490.8,304.0C1488.8,303.0 1484.2,303.1 1481.8,302.4C1479.3,301.6 1475.9,300.6 1474.4,299.1C1472.9,297.6 1472.2,294.7 1471.9,292.5C1471.7,290.2 1472.2,285.9 1472.7,284.2C1473.2,282.4 1476.1,281.9 1475.2,280.9C1474.3,279.9 1469.0,277.8 1467.0,277.5C1465.0,277.2 1463.2,279.1 1462.0,278.9C1460.9,278.6 1461.1,276.1 1459.6,275.9C1458.1,275.7 1453.3,278.0 1452.2,277.5C1451.1,277.1 1453.4,272.3 1452.2,272.9C1451.0,273.5 1445.7,279.6 1444.0,281.7C1442.2,283.8 1441.7,286.3 1440.7,287.2C1439.7,288.0 1437.5,288.6 1437.4,287.5Z"/>
<path d="M1591.1,414.7C1591.0,413.7 1586.0,416.2 1586.2,416.0C1586.3,415.7 1589.3,414.3 1591.9,413.0C1594.5,411.8 1600.0,408.7 1603.4,407.8C1606.9,406.9 1611.5,406.2 1614.9,407.0C1618.4,407.7 1623.1,411.9 1626.4,413.0C1629.8,414.2 1635.2,413.3 1637.1,414.7C1639.1,416.1 1639.5,419.7 1639.6,422.6C1639.7,425.5 1637.7,430.9 1638.0,434.1C1638.2,437.3 1640.3,441.9 1641.2,444.0C1642.2,446.1 1643.5,446.6 1644.5,448.1C1645.5,449.6 1646.6,452.6 1647.8,453.8C1649.1,455.1 1650.8,455.9 1652.8,456.3C1654.7,456.7 1658.8,457.3 1661.0,456.3C1663.2,455.3 1665.3,452.4 1667.5,449.7C1669.8,447.0 1673.1,441.0 1675.8,438.2C1678.5,435.4 1681.9,432.8 1685.6,430.8C1689.3,428.8 1696.2,425.0 1700.4,425.0C1704.6,425.0 1708.9,428.6 1713.6,430.8C1718.3,433.0 1726.7,438.0 1731.7,439.8C1736.6,441.7 1742.8,442.2 1746.5,443.1C1750.2,444.0 1751.9,444.0 1756.3,445.9C1760.8,447.9 1770.4,453.6 1776.1,456.3C1781.7,459.0 1789.7,461.6 1794.1,463.7C1798.6,465.8 1802.2,468.3 1805.6,470.3C1809.1,472.3 1813.9,474.9 1817.2,476.9C1820.4,478.9 1824.1,481.5 1827.0,483.5C1830.0,485.5 1833.9,488.1 1836.9,490.1C1839.8,492.1 1843.8,494.7 1846.7,496.7C1849.7,498.7 1853.8,501.3 1856.6,503.3C1859.4,505.3 1864.9,508.3 1865.6,509.9C1866.4,511.6 1862.0,512.5 1861.5,514.1C1861.0,515.7 1861.5,518.3 1862.4,520.7C1863.2,523.1 1865.8,527.2 1867.3,529.8C1868.8,532.4 1870.9,535.6 1872.2,538.1C1873.6,540.6 1873.7,544.7 1876.3,546.4C1878.9,548.2 1887.5,546.0 1889.5,549.8C1891.5,553.5 1891.5,568.6 1889.5,571.5C1887.5,574.3 1880.0,569.6 1876.3,568.9C1872.6,568.3 1868.4,569.0 1864.8,567.3C1861.3,565.5 1855.7,559.9 1852.5,557.3C1849.3,554.6 1846.3,552.9 1843.5,549.8C1840.6,546.7 1835.6,539.1 1833.6,536.5C1831.6,533.9 1832.8,533.3 1830.3,532.3C1827.8,531.3 1820.4,530.7 1817.2,529.8C1813.9,529.0 1810.9,527.3 1808.9,526.5C1807.0,525.8 1806.2,524.1 1804.0,524.9C1801.8,525.6 1795.9,529.5 1794.1,531.5C1792.4,533.5 1793.7,536.4 1792.5,538.1C1791.3,539.9 1786.7,541.2 1785.9,543.1C1785.2,545.0 1788.8,549.1 1787.6,550.6C1786.3,552.1 1780.7,552.7 1777.7,553.1C1774.7,553.5 1771.8,553.4 1767.8,553.1C1763.9,552.9 1756.3,553.7 1751.4,551.4C1746.5,549.2 1739.9,540.6 1735.0,538.1C1730.0,535.6 1723.2,534.6 1718.5,534.8C1713.8,535.1 1707.0,539.0 1703.7,539.8C1700.4,540.5 1696.8,542.3 1696.3,539.8C1695.8,537.3 1697.6,526.2 1700.4,523.2C1703.3,520.2 1713.5,521.9 1715.2,519.9C1717.0,517.9 1713.7,513.7 1711.9,509.9C1710.2,506.2 1706.2,498.5 1703.7,495.1C1701.2,491.6 1698.7,489.0 1695.5,486.8C1692.3,484.6 1686.5,481.9 1682.3,480.2C1678.2,478.5 1671.5,476.2 1667.5,475.3C1663.6,474.3 1659.2,474.6 1656.0,473.6C1652.8,472.6 1648.6,470.1 1646.2,468.7C1643.7,467.2 1641.8,465.0 1639.6,463.7C1637.4,462.5 1633.4,459.9 1631.4,460.4C1629.4,460.9 1628.4,465.9 1626.4,467.0C1624.5,468.1 1619.8,468.8 1618.2,467.8C1616.6,466.8 1618.0,463.3 1615.8,460.4C1613.5,457.6 1604.5,451.0 1603.4,448.9C1602.3,446.8 1605.9,447.5 1608.4,446.4C1610.8,445.3 1616.4,442.1 1619.9,441.5C1623.3,440.9 1629.9,442.9 1631.4,442.3C1632.9,441.7 1632.2,438.0 1629.7,437.4C1627.3,436.8 1618.6,438.6 1614.9,438.2C1611.2,437.8 1607.0,436.4 1605.1,434.9C1603.1,433.4 1603.8,429.8 1601.8,428.3C1599.8,426.8 1594.1,425.9 1591.9,425.0C1589.7,424.2 1587.1,424.1 1587.0,422.6C1586.9,421.0 1591.2,415.7 1591.1,414.7Z"/>
<path d="M1486.7,695.2C1453.4,693.1 1487.6,685.0 1488.4,681.4C1489.1,677.8 1490.7,674.5 1491.6,671.1C1492.6,667.8 1493.7,662.0 1494.9,659.2C1496.2,656.4 1498.4,654.4 1499.9,652.4C1501.3,650.3 1502.6,648.1 1504.8,645.6C1507.0,643.0 1512.3,637.8 1514.7,635.4C1517.0,633.0 1518.7,629.5 1520.4,629.5C1522.1,629.5 1524.1,633.5 1526.2,635.4C1528.3,637.3 1532.3,640.1 1534.4,642.2C1536.5,644.2 1538.4,647.4 1540.1,649.0C1541.9,650.5 1543.8,652.4 1545.9,652.4C1548.0,652.4 1551.9,649.9 1554.1,649.0C1556.3,648.1 1559.2,648.5 1560.7,646.4C1562.2,644.4 1562.7,638.6 1564.0,635.4C1565.2,632.2 1567.4,627.8 1568.9,625.2C1570.4,622.7 1572.7,620.5 1573.8,618.5C1574.9,616.4 1574.7,613.5 1576.3,611.7C1577.9,609.9 1581.9,607.9 1584.5,606.7C1587.1,605.4 1590.7,603.9 1593.6,603.3C1596.4,602.7 1600.7,602.7 1603.4,602.5C1606.1,602.2 1610.2,603.3 1611.7,601.6C1613.1,600.0 1614.8,593.6 1613.3,591.5C1611.8,589.5 1602.8,589.1 1601.8,588.2C1600.8,587.3 1604.0,585.0 1606.7,585.7C1609.4,586.3 1615.7,590.6 1619.9,592.4C1624.1,594.1 1629.7,596.0 1634.7,597.4C1639.6,598.8 1647.6,601.2 1652.8,601.6C1657.9,602.0 1664.8,599.7 1669.2,599.9C1673.6,600.2 1680.7,601.0 1682.3,603.3C1683.9,605.6 1681.9,612.3 1679.9,615.1C1677.9,617.9 1671.0,618.8 1669.2,621.8C1667.3,624.9 1669.0,631.6 1667.5,635.4C1666.1,639.2 1659.7,644.5 1659.3,647.3C1659.0,650.1 1661.9,651.3 1665.1,654.1C1668.3,656.9 1676.4,663.2 1680.7,666.0C1685.0,668.8 1690.6,670.4 1693.9,672.9C1697.1,675.3 1699.6,678.9 1702.1,682.3C1704.5,685.6 1742.6,693.3 1710.3,695.2C1678.0,697.1 1520.0,697.3 1486.7,695.2Z"/>
<path d="M1573.8,593.2C1574.8,592.0 1576.8,588.9 1578.8,588.2C1580.7,587.4 1584.3,587.9 1587.0,588.2C1589.7,588.4 1595.6,589.0 1596.9,589.9C1598.1,590.7 1596.9,592.9 1595.2,594.1C1593.5,595.2 1588.1,596.9 1585.3,597.4C1582.6,597.9 1579.1,597.5 1577.1,597.4C1575.2,597.3 1572.7,597.2 1572.2,596.6C1571.7,595.9 1572.9,594.5 1573.8,593.2Z"/>
<path d="M1753.0,695.2C1742.4,691.6 1757.2,676.6 1758.0,671.1C1758.7,665.7 1757.5,663.5 1758.0,659.2C1758.5,654.8 1761.0,647.3 1761.3,642.2C1761.5,637.1 1759.6,630.0 1759.6,625.2C1759.6,620.4 1760.3,613.8 1761.3,610.0C1762.2,606.2 1765.0,604.0 1766.2,599.9C1767.4,595.9 1768.0,586.4 1769.5,583.2C1771.0,579.9 1774.1,577.4 1776.1,578.1C1778.0,578.9 1780.9,584.9 1782.6,588.2C1784.4,591.5 1786.1,595.9 1787.6,599.9C1789.0,604.0 1791.5,610.5 1792.5,615.1C1793.5,619.6 1793.1,626.5 1794.1,630.3C1795.1,634.1 1796.8,639.3 1799.1,640.5C1801.3,641.6 1805.5,636.4 1808.9,637.9C1812.4,639.5 1820.1,647.5 1822.1,650.7C1824.1,653.9 1821.7,655.9 1822.1,659.2C1822.5,662.5 1823.6,667.5 1824.5,672.9C1825.5,678.3 1839.4,691.9 1828.7,695.2C1817.9,698.6 1763.6,698.8 1753.0,695.2Z"/>
</g>
</g>
<g filter="url(#soft3)" fill="#f1f3f4">
<path d="M1286.1,517.5C1286.8,517.0 1289.1,515.8 1291.1,515.5C1293.1,515.1 1296.7,515.4 1299.3,515.4C1301.9,515.4 1306.9,515.3 1308.4,515.6C1309.8,515.8 1310.0,516.7 1309.1,517.3C1308.3,517.8 1304.8,519.0 1302.6,519.3C1300.3,519.6 1296.7,519.4 1294.3,519.4C1292.0,519.4 1288.2,519.4 1286.9,519.1C1285.7,518.8 1285.5,518.0 1286.1,517.5Z" opacity="0.9"/>
<path d="M1458.8,537.9C1460.3,537.3 1468.5,536.8 1470.3,537.0C1472.2,537.2 1472.5,538.8 1471.1,539.3C1469.6,539.9 1462.2,541.0 1460.3,540.8C1458.5,540.5 1457.3,538.5 1458.8,537.9Z" opacity="0.78"/>
<path d="M1476.9,537.1C1478.6,536.5 1488.1,536.0 1490.0,536.2C1492.0,536.4 1491.7,537.9 1490.0,538.5C1488.2,539.1 1480.4,540.2 1478.4,540.0C1476.5,539.7 1475.2,537.7 1476.9,537.1Z" opacity="0.78"/>
<path d="M1500.8,531.0C1501.8,530.3 1507.3,528.6 1509.9,528.0C1512.5,527.4 1516.7,526.8 1518.0,526.9C1519.3,527.0 1519.9,528.0 1518.7,528.6C1517.4,529.2 1511.9,530.4 1509.6,531.0C1507.3,531.5 1504.4,532.2 1503.1,532.2C1501.7,532.2 1499.7,531.6 1500.8,531.0Z" opacity="0.78"/>
<path d="M1587.8,529.0C1589.2,527.0 1596.0,519.7 1597.7,519.1C1599.4,518.4 1600.2,522.7 1599.3,524.9C1598.5,527.0 1593.5,532.0 1591.9,533.1C1590.3,534.3 1589.3,532.9 1588.6,532.3C1588.0,531.7 1586.5,531.0 1587.8,529.0Z" opacity="0.9"/>
<path d="M1341.2,456.3C1341.8,454.6 1344.7,454.7 1345.3,456.3C1345.9,457.9 1345.9,465.3 1345.3,467.0C1344.7,468.7 1341.8,469.4 1341.2,467.8C1340.6,466.2 1340.6,458.0 1341.2,456.3Z" opacity="0.78"/>
<path d="M1444.0,479.4C1445.0,478.3 1449.8,477.9 1450.5,479.4C1451.3,480.9 1449.9,488.2 1448.9,489.3C1447.9,490.4 1444.7,488.3 1444.0,486.8C1443.2,485.3 1443.0,480.5 1444.0,479.4Z" opacity="0.9"/>
<path d="M1412.7,497.5C1412.9,496.2 1414.9,496.9 1415.2,498.4C1415.4,499.9 1414.7,507.6 1414.4,507.5C1414.0,507.3 1412.6,498.9 1412.7,497.5Z" opacity="0.62"/>
<path d="M1453.0,420.9C1454.4,420.1 1462.0,421.0 1463.7,421.8C1465.4,422.5 1465.9,425.0 1464.5,425.9C1463.2,426.7 1456.4,428.2 1454.7,427.5C1452.9,426.8 1451.6,421.8 1453.0,420.9Z" opacity="0.9"/>
<path d="M1478.5,428.8C1479.7,428.3 1484.6,429.2 1488.3,429.5C1492.0,429.8 1499.8,430.7 1503.1,430.9C1506.5,431.2 1509.5,430.8 1510.5,431.0C1511.5,431.3 1511.8,432.3 1509.7,432.6C1507.6,432.9 1501.0,432.8 1496.6,432.9C1492.2,432.9 1482.9,433.3 1480.2,432.7C1477.4,432.1 1477.2,429.2 1478.5,428.8Z" opacity="0.9"/>
<path d="M1527.8,424.2C1529.3,423.6 1537.8,424.3 1539.3,425.0C1540.8,425.8 1539.2,428.8 1537.7,429.5C1536.2,430.1 1530.9,430.3 1529.5,429.5C1528.0,428.7 1526.3,424.9 1527.8,424.2Z" opacity="0.78"/>
<path d="M1541.0,363.4C1541.5,361.9 1545.6,358.2 1546.7,358.4C1547.8,358.7 1548.9,363.5 1548.4,365.0C1547.9,366.5 1544.5,368.6 1543.4,368.3C1542.3,368.1 1540.5,364.9 1541.0,363.4Z" opacity="0.78"/>
<path d="M1526.2,407.0C1526.5,405.8 1530.6,406.8 1531.9,407.8C1533.3,408.8 1535.6,412.4 1535.2,413.5C1534.8,414.6 1530.8,416.2 1529.5,415.2C1528.1,414.2 1525.8,408.1 1526.2,407.0Z" opacity="0.78"/>
<path d="M1516.3,328.0C1516.8,326.9 1519.2,327.3 1519.6,328.8C1520.0,330.3 1519.3,336.7 1518.8,337.9C1518.3,339.0 1516.7,337.7 1516.3,336.2C1515.9,334.7 1515.8,329.1 1516.3,328.0Z" opacity="0.78"/>
<path d="M1149.7,402.8C1151.3,402.4 1157.4,403.7 1157.9,404.5C1158.4,405.2 1154.5,406.8 1153.0,407.8C1151.5,408.8 1148.9,411.1 1148.0,411.1C1147.2,411.1 1147.0,409.0 1147.2,407.8C1147.5,406.5 1148.1,403.3 1149.7,402.8Z" opacity="0.78"/>
<path d="M1208.9,335.4C1209.7,334.0 1214.6,331.3 1215.4,332.1C1216.3,332.8 1215.5,339.0 1214.6,340.3C1213.8,341.7 1210.6,341.9 1209.7,341.2C1208.8,340.4 1208.0,336.7 1208.9,335.4Z" opacity="0.78"/>
<path d="M1007.5,354.0C1006.7,352.9 1009.7,354.0 1011.6,355.1C1013.4,356.3 1019.1,360.3 1019.8,361.4C1020.6,362.5 1018.4,363.7 1016.5,362.6C1014.7,361.4 1008.2,355.1 1007.5,354.0Z" opacity="0.78"/>
<path d="M1054.3,417.6C1055.1,417.0 1059.2,416.7 1060.9,418.5C1062.6,420.2 1065.7,427.3 1065.8,429.2C1066.0,431.0 1063.2,431.8 1061.7,430.8C1060.3,429.8 1057.1,424.5 1056.0,422.6C1054.9,420.6 1053.6,418.3 1054.3,417.6Z" opacity="0.9"/>
<path d="M1070.0,434.9C1070.1,434.3 1072.3,434.9 1073.2,435.7C1074.2,436.6 1076.7,440.1 1076.5,440.7C1076.4,441.3 1073.4,440.7 1072.4,439.8C1071.4,439.0 1069.8,435.5 1070.0,434.9Z" opacity="0.62"/>
<path d="M1077.4,444.0C1077.4,442.8 1080.3,444.1 1081.5,445.6C1082.6,447.1 1085.1,452.7 1085.1,453.8C1085.1,454.9 1082.6,454.5 1081.5,453.0C1080.3,451.5 1077.4,445.1 1077.4,444.0Z" opacity="0.78"/>
<path d="M968.8,265.9C969.3,265.4 971.8,266.0 972.1,266.8C972.5,267.5 971.8,270.4 971.3,270.9C970.8,271.4 969.2,270.8 968.8,270.1C968.5,269.3 968.4,266.4 968.8,265.9Z" opacity="0.62"/>
<path d="M973.0,281.7C973.3,280.7 976.3,281.4 977.1,282.5C977.8,283.6 978.3,288.2 977.9,289.1C977.5,290.1 975.3,290.3 974.6,289.1C973.9,288.0 972.6,282.7 973.0,281.7Z" opacity="0.78"/>
<path d="M1403.7,197.4C1404.8,197.2 1410.5,199.6 1411.1,200.8C1411.7,201.9 1408.9,204.7 1407.8,205.0C1406.7,205.2 1404.3,203.6 1403.7,202.5C1403.1,201.3 1402.6,197.7 1403.7,197.4Z" opacity="0.78"/>
<path d="M1462.0,245.1C1462.5,244.6 1464.6,238.4 1466.2,234.3C1467.7,230.2 1471.4,220.5 1472.2,217.6C1473.1,214.6 1472.4,213.3 1471.9,214.5C1471.4,215.8 1470.2,222.5 1469.0,225.9C1467.7,229.4 1464.4,234.7 1463.4,237.6C1462.3,240.5 1461.6,245.6 1462.0,245.1Z" opacity="0.62"/>
<path d="M1468.6,242.3C1468.4,241.0 1471.7,235.4 1473.6,234.3C1475.4,233.2 1479.7,234.2 1481.0,235.1C1482.2,236.0 1482.6,239.0 1481.8,240.1C1480.9,241.3 1477.2,242.3 1475.2,242.6C1473.2,243.0 1468.9,243.6 1468.6,242.3Z" opacity="0.9"/>
<path d="M1496.6,229.3C1497.1,228.1 1499.5,228.0 1499.9,229.3C1500.2,230.5 1499.5,236.5 1499.0,237.6C1498.5,238.8 1496.9,238.0 1496.6,236.8C1496.2,235.5 1496.1,230.4 1496.6,229.3Z" opacity="0.62"/>
<path d="M1504.8,235.1C1504.9,234.5 1507.0,235.2 1507.3,236.0C1507.5,236.7 1506.8,240.3 1506.4,240.1C1506.1,240.0 1504.7,235.7 1504.8,235.1Z" opacity="0.62"/>
<path d="M1435.7,293.3C1436.6,292.7 1443.0,291.3 1444.0,291.6C1445.0,292.0 1443.2,294.9 1442.3,295.4C1441.5,296.0 1439.2,295.8 1438.2,295.4C1437.2,295.1 1434.9,293.9 1435.7,293.3Z" opacity="0.62"/>
<path d="M1420.9,302.0C1421.4,301.7 1428.4,301.7 1429.2,302.0C1429.9,302.4 1427.1,304.5 1425.9,304.5C1424.6,304.5 1420.5,302.4 1420.9,302.0Z" opacity="0.62"/>
<path d="M1402.9,315.3C1404.0,315.2 1410.1,316.4 1411.1,316.9C1412.1,317.4 1410.5,318.5 1409.4,318.6C1408.3,318.6 1404.7,317.7 1403.7,317.2C1402.7,316.7 1401.8,315.3 1402.9,315.3Z" opacity="0.62"/>
<path d="M1575.5,402.8C1576.7,402.2 1582.9,401.8 1585.3,402.0C1587.8,402.3 1591.9,403.7 1591.9,404.5C1591.9,405.2 1587.6,406.7 1585.3,407.0C1583.1,407.2 1578.6,406.7 1577.1,406.1C1575.6,405.5 1574.3,403.5 1575.5,402.8Z" opacity="0.9"/>
<path d="M1580.4,416.8C1580.9,415.8 1585.5,416.1 1587.0,416.8C1588.5,417.6 1590.8,420.8 1590.3,421.8C1589.8,422.7 1585.2,424.1 1583.7,423.4C1582.2,422.7 1579.9,417.8 1580.4,416.8Z" opacity="0.78"/>
<path d="M1577.9,414.0C1579.1,413.8 1585.1,414.3 1586.2,414.7C1587.3,415.0 1586.5,416.1 1585.3,416.3C1584.2,416.5 1579.9,416.3 1578.8,416.0C1577.7,415.7 1576.8,414.2 1577.9,414.0Z" opacity="0.62"/>
<path d="M1565.6,430.8C1567.1,430.1 1575.3,429.5 1577.1,430.0C1579.0,430.5 1579.4,433.3 1577.9,434.1C1576.5,434.8 1569.1,435.4 1567.3,434.9C1565.4,434.4 1564.1,431.5 1565.6,430.8Z" opacity="0.78"/>
<path d="M1661.8,413.5C1662.9,413.4 1668.9,415.7 1670.8,416.8C1672.8,417.9 1675.2,420.3 1674.9,420.9C1674.7,421.5 1670.9,421.4 1669.2,420.9C1667.5,420.4 1664.5,418.8 1663.4,417.6C1662.3,416.5 1660.7,413.7 1661.8,413.5Z" opacity="0.78"/>
<path d="M1660.1,428.6C1661.9,428.3 1668.9,428.4 1672.5,428.7C1676.0,429.1 1684.0,430.3 1684.0,430.8C1684.0,431.3 1676.0,432.1 1672.5,432.0C1669.1,432.0 1662.8,431.1 1661.0,430.6C1659.1,430.0 1658.4,428.8 1660.1,428.6Z" opacity="0.9"/>
<path d="M1843.5,434.1C1845.1,433.5 1854.1,433.3 1855.8,433.8C1857.5,434.3 1856.6,436.8 1855.0,437.4C1853.4,437.9 1846.8,437.9 1845.1,437.4C1843.4,436.9 1841.9,434.6 1843.5,434.1Z" opacity="0.78"/>
<path d="M1675.8,630.3C1676.9,629.5 1683.1,630.7 1684.0,632.0C1684.9,633.3 1682.6,638.0 1681.5,638.8C1680.4,639.5 1677.5,638.3 1676.6,637.1C1675.7,635.8 1674.7,631.1 1675.8,630.3Z" opacity="0.78"/>
</g>
<g filter="url(#soft)">
<path d="M1757.1,509.9C1758.0,509.1 1761.0,511.3 1761.6,513.3C1762.2,515.2 1761.8,520.7 1760.9,521.5C1760.1,522.4 1757.0,520.2 1756.3,518.2C1755.7,516.3 1756.3,510.8 1757.1,509.9Z" fill="#c4d6f2"/>
<path d="M1054.3,354.3C1055.4,354.5 1058.9,356.5 1060.1,357.6C1061.3,358.7 1062.1,360.5 1061.7,360.9C1061.3,361.3 1059.0,360.8 1057.6,360.1C1056.3,359.4 1054.1,357.8 1053.5,356.8C1053.0,355.8 1053.2,354.2 1054.3,354.3Z" fill="#c4d6f2"/>
<path d="M1754.7,486.8C1759.1,488.2 1772.8,492.3 1781.0,495.1C1789.2,497.8 1796.3,499.7 1804.0,503.3C1811.7,506.9 1819.6,511.3 1827.0,516.6C1834.4,521.8 1842.4,529.0 1848.4,534.8C1854.4,540.6 1858.5,547.0 1863.2,551.4C1867.8,555.9 1874.1,559.8 1876.3,561.4" fill="none" stroke="#e9e7e1" stroke-width="6.5" stroke-linecap="round"/>
<path d="M1639.6,455.5C1644.0,456.9 1656.9,461.5 1665.9,463.7C1674.9,465.9 1684.5,466.7 1693.9,468.7C1703.2,470.6 1712.2,472.5 1721.8,475.3C1731.4,478.0 1746.5,483.5 1751.4,485.2" fill="none" stroke="#eae8e2" stroke-width="5.0" stroke-linecap="round"/>
<path d="M1634.7,453.8C1639.1,455.3 1652.5,460.6 1661.0,462.9C1669.5,465.2 1677.4,466.3 1685.6,467.8C1693.9,469.3 1702.1,470.0 1710.3,472.0C1718.5,473.9 1728.1,477.2 1735.0,479.4C1741.8,481.6 1748.7,484.2 1751.4,485.2" fill="none" stroke="#bdbbb5" stroke-width="3.0" stroke-linecap="round"/>
<path d="M1751.4,485.2C1755.5,486.3 1767.8,489.6 1776.1,491.8C1784.3,494.0 1792.5,494.8 1800.7,498.4C1808.9,502.0 1817.7,507.7 1825.4,513.3C1833.0,518.8 1841.0,525.7 1846.7,531.5C1852.5,537.3 1855.2,543.4 1859.9,548.1C1864.6,552.8 1872.2,557.8 1874.7,559.8" fill="none" stroke="#c6c4be" stroke-width="2.8" stroke-linecap="round"/>
<path d="M1644.5,450.5C1650.0,452.2 1666.5,458.0 1677.4,460.4C1688.4,462.9 1699.3,463.4 1710.3,465.4C1721.3,467.3 1737.7,470.9 1743.2,472.0" fill="none" stroke="#e3e1db" stroke-width="1.2" stroke-linecap="round"/>
<path d="M1011.6,320.5C1015.7,324.1 1028.0,333.7 1036.3,342.0C1044.5,350.2 1052.7,359.3 1060.9,370.0C1069.1,380.7 1077.9,394.9 1085.6,406.1C1093.2,417.4 1100.1,427.8 1106.9,437.4C1113.8,447.0 1119.8,456.0 1126.7,463.7C1133.5,471.4 1144.5,480.2 1148.0,483.5" fill="none" stroke="#e6e4de" stroke-width="1.6" stroke-linecap="round"/>
<path d="M1291.1,371.6C1295.2,371.1 1308.6,372.2 1315.7,368.3C1322.9,364.5 1328.9,355.7 1333.8,348.6C1338.7,341.4 1342.6,332.9 1345.3,325.5C1348.1,318.1 1349.4,307.6 1350.3,304.0" fill="none" stroke="#e8e6e0" stroke-width="1.4" stroke-linecap="round"/>
<path d="M1404.5,447.3C1405.1,443.7 1405.9,433.0 1407.8,425.9C1409.7,418.7 1414.6,408.1 1416.0,404.5" fill="none" stroke="#e8e6e0" stroke-width="1.4" stroke-linecap="round"/>
<path d="M1098.7,309.0C1099.8,312.0 1103.1,321.1 1105.3,327.1C1107.5,333.2 1110.8,342.2 1111.9,345.3" fill="none" stroke="#e8e6e0" stroke-width="1.3" stroke-linecap="round"/>
<path d="M1189.1,514.9C1193.8,516.0 1207.0,519.9 1217.1,521.5C1227.2,523.2 1239.0,523.2 1250.0,524.9C1260.9,526.5 1273.0,530.0 1282.9,531.5C1292.7,533.0 1304.8,533.6 1309.2,534.0" fill="none" stroke="#e6e4de" stroke-width="1.2" stroke-linecap="round"/>
</g>
<g fill="none" stroke="#6c6c6c" stroke-width="1.5" stroke-linejoin="round" filter="url(#soft2)">
<polyline points="1064.2,182.2 1066.2,194.1 1070.8,202.5 1070.0,207.5 1065.8,215.9 1060.9,224.3 1057.6,230.9 1054.3,236.8"/>
<polyline points="1079.0,294.9 1082.3,290.8 1089.7,294.9 1095.4,298.2 1094.6,304.0 1098.7,305.7 1103.7,304.9 1106.9,306.5 1111.9,299.1"/>
<polyline points="1125.0,208.3 1122.6,200.8 1119.3,192.4 1118.5,182.2"/>
<polyline points="1150.5,229.3 1157.9,226.8 1161.2,220.1 1172.7,219.2 1179.3,222.6 1179.3,214.2 1173.5,208.3 1182.6,202.5 1200.7,196.6 1201.5,182.2"/>
<polyline points="1308.3,325.5 1312.4,330.4 1320.7,332.1 1324.8,327.1 1325.6,320.5"/>
<polyline points="1324.8,327.1 1328.9,329.6 1329.7,320.5"/>
<polyline points="1751.4,444.0 1751.4,505.0 1748.9,511.6 1751.4,514.9 1751.7,551.8"/>
<polyline stroke-width="1.8" points="1474.8,554.4 1477.4,558.4 1480.6,555.0"/>
<polyline stroke-width="1.8" points="1236.2,367.5 1236.9,372.5 1239.5,377.0 1242.5,381.2 1246.5,384.8 1251.2,387.5 1257.0,385.2 1262.5,383.8 1266.5,385.6 1270.0,386.2 1274.0,383.5 1277.5,381.2 1281.0,377.6 1285.0,375.0 1289.0,376.6 1292.5,377.5 1297.0,380.0 1301.2,381.9 1306.0,379.2 1310.0,377.5 1314.5,376.8 1318.7,375.0 1319.8,370.8 1321.2,367.5 1323.4,364.6 1325.0,362.5 1327.8,360.2 1330.0,358.7 1331.4,353.0 1332.5,347.5 1333.2,341.0 1333.7,335.0 1335.6,330.0 1340.0,328.7 1346.0,329.2 1352.5,328.7 1359.0,330.4 1365.0,331.2 1370.0,333.1"/>
</g>
<g filter="url(#tblur)">
<text x="968.3" y="225" font-size="13.3" font-weight="normal" text-anchor="start" textLength="71" lengthAdjust="spacing" fill="#4f6aa3" stroke="#4f6aa3" stroke-width="0.3">Andaman</text>
<text x="992" y="240" font-size="13.3" font-weight="normal" text-anchor="start" textLength="25.5" lengthAdjust="spacing" fill="#4f6aa3" stroke="#4f6aa3" stroke-width="0.3">Sea</text>
<text x="1161.7" y="272.5" font-size="13.3" font-weight="normal" text-anchor="start" textLength="43.5" lengthAdjust="spacing" fill="#4f6aa3" stroke="#4f6aa3" stroke-width="0.3">South</text>
<text x="1162.5" y="288.3" font-size="13.3" font-weight="normal" text-anchor="start" textLength="42" lengthAdjust="spacing" fill="#4f6aa3" stroke="#4f6aa3" stroke-width="0.3">China</text>
<text x="1170.8" y="304.2" font-size="13.3" font-weight="normal" text-anchor="start" textLength="25" lengthAdjust="spacing" fill="#4f6aa3" stroke="#4f6aa3" stroke-width="0.3">Sea</text>
<text x="1365" y="280" font-size="13.3" font-weight="normal" text-anchor="start" textLength="66" lengthAdjust="spacing" fill="#4f6aa3" stroke="#4f6aa3" stroke-width="0.3">Sulu Sea</text>
<text x="1381.7" y="347.5" font-size="13.3" font-weight="normal" text-anchor="start" textLength="97.5" lengthAdjust="spacing" fill="#4f6aa3" stroke="#4f6aa3" stroke-width="0.3">Sulawesi Sea</text>
<text x="1245" y="488.3" font-size="13.3" font-weight="normal" text-anchor="start" textLength="63.5" lengthAdjust="spacing" fill="#4f6aa3" stroke="#4f6aa3" stroke-width="0.3">Java Sea</text>
<text x="1496.5" y="502" font-size="13.3" font-weight="normal" text-anchor="start" textLength="78.5" lengthAdjust="spacing" fill="#4f6aa3" stroke="#4f6aa3" stroke-width="0.3">Banda Sea</text>
<text x="1478.3" y="591.7" font-size="13.3" font-weight="normal" text-anchor="start" textLength="78" lengthAdjust="spacing" fill="#4f6aa3" stroke="#4f6aa3" stroke-width="0.3">Timor Sea</text>
<text x="1655" y="566.7" font-size="13.3" font-weight="normal" text-anchor="start" textLength="89" lengthAdjust="spacing" fill="#4f6aa3" stroke="#4f6aa3" stroke-width="0.3">Arafura Sea</text>
<text x="1045" y="199" font-size="19" font-weight="normal" text-anchor="start" textLength="82" lengthAdjust="spacing" fill="none" stroke="#ffffff" stroke-opacity="0.85" stroke-width="3.0" stroke-linejoin="round" filter="url(#soft2)">Bangkok</text>
<text x="1045" y="199" font-size="19" font-weight="normal" text-anchor="start" textLength="82" lengthAdjust="spacing" fill="#3a3d4c" stroke="#3a3d4c" stroke-width="0.4">Bangkok</text>
<text x="1107.5" y="231.9" font-size="16.6" font-weight="normal" text-anchor="start" textLength="101.3" lengthAdjust="spacing" fill="none" stroke="#ffffff" stroke-opacity="0.85" stroke-width="3.0" stroke-linejoin="round" filter="url(#soft2)">Phnom Penh</text>
<text x="1107.5" y="231.9" font-size="16.6" font-weight="normal" text-anchor="start" textLength="101.3" lengthAdjust="spacing" fill="#44475a" stroke="#44475a" stroke-width="0.35">Phnom Penh</text>
<text x="1112.5" y="357.6" font-size="14.5" font-weight="normal" text-anchor="start" textLength="63.5" lengthAdjust="spacing" fill="none" stroke="#ffffff" stroke-opacity="0.85" stroke-width="3.0" stroke-linejoin="round" filter="url(#soft2)">Putrajaya</text>
<text x="1112.5" y="357.6" font-size="14.5" font-weight="normal" text-anchor="start" textLength="63.5" lengthAdjust="spacing" fill="#555862" stroke="#555862" stroke-width="0.25">Putrajaya</text>
<text x="1284.4" y="340.6" font-size="14.5" font-weight="normal" text-anchor="start" textLength="78.5" lengthAdjust="spacing" fill="none" stroke="#ffffff" stroke-opacity="0.85" stroke-width="3.0" stroke-linejoin="round" filter="url(#soft2)">Bandar Seri</text>
<text x="1284.4" y="340.6" font-size="14.5" font-weight="normal" text-anchor="start" textLength="78.5" lengthAdjust="spacing" fill="#44475a" stroke="#44475a" stroke-width="0.3">Bandar Seri</text>
<text x="1291.7" y="357.2" font-size="14.5" font-weight="normal" text-anchor="start" textLength="61.5" lengthAdjust="spacing" fill="none" stroke="#ffffff" stroke-opacity="0.85" stroke-width="3.0" stroke-linejoin="round" filter="url(#soft2)">Begawan</text>
<text x="1291.7" y="357.2" font-size="14.5" font-weight="normal" text-anchor="start" textLength="61.5" lengthAdjust="spacing" fill="#44475a" stroke="#44475a" stroke-width="0.3">Begawan</text>
<text x="1155.6" y="528.7" font-size="20" font-weight="normal" text-anchor="start" textLength="67.5" lengthAdjust="spacing" fill="none" stroke="#ffffff" stroke-opacity="0.85" stroke-width="3.6" stroke-linejoin="round" filter="url(#soft2)">Jakarta</text>
<text x="1155.6" y="528.7" font-size="20" font-weight="normal" text-anchor="start" textLength="67.5" lengthAdjust="spacing" fill="#34384a" stroke="#34384a" stroke-width="0.45">Jakarta</text>
<text x="1486.2" y="563.1" font-size="14.2" font-weight="normal" text-anchor="start" textLength="21.6" lengthAdjust="spacing" fill="none" stroke="#ffffff" stroke-opacity="0.85" stroke-width="3.0" stroke-linejoin="round" filter="url(#soft2)">Dili</text>
<text x="1486.2" y="563.1" font-size="14.2" font-weight="normal" text-anchor="start" textLength="21.6" lengthAdjust="spacing" fill="#3f4254" stroke="#3f4254" stroke-width="0.35">Dili</text>
<text x="1799.8" y="578.9" font-size="15.8" font-weight="normal" text-anchor="start" textLength="108.5" lengthAdjust="spacing" fill="none" stroke="#ffffff" stroke-opacity="0.85" stroke-width="3.0" stroke-linejoin="round" filter="url(#soft2)">Port Moresby</text>
<text x="1799.8" y="578.9" font-size="15.8" font-weight="normal" text-anchor="start" textLength="108.5" lengthAdjust="spacing" fill="#3f4254" stroke="#3f4254" stroke-width="0.35">Port Moresby</text>
<text x="1076.7" y="338.3" font-size="15.5" font-weight="bold" text-anchor="start" textLength="96.6" lengthAdjust="spacing" fill="none" stroke="#ffffff" stroke-opacity="0.85" stroke-width="3.0" stroke-linejoin="round" filter="url(#soft2)">MALAYSIA</text>
<text x="1076.7" y="338.3" font-size="15.5" font-weight="bold" text-anchor="start" textLength="96.6" lengthAdjust="spacing" fill="#101010">MALAYSIA</text>
<text x="1096.7" y="385" font-size="13.5" font-weight="bold" text-anchor="start" textLength="96.6" lengthAdjust="spacing" fill="none" stroke="#ffffff" stroke-opacity="0.85" stroke-width="3.0" stroke-linejoin="round" filter="url(#soft2)">SINGAPORE</text>
<text x="1096.7" y="385" font-size="13.5" font-weight="bold" text-anchor="start" textLength="96.6" lengthAdjust="spacing" fill="#101010">SINGAPORE</text>
<text x="1395" y="209.2" font-size="17" font-weight="bold" text-anchor="start" textLength="117.5" lengthAdjust="spacing" fill="none" stroke="#ffffff" stroke-opacity="0.85" stroke-width="3.0" stroke-linejoin="round" filter="url(#soft2)">PHILIPPINES</text>
<text x="1395" y="209.2" font-size="17" font-weight="bold" text-anchor="start" textLength="117.5" lengthAdjust="spacing" fill="#101010">PHILIPPINES</text>
<text x="1308.3" y="428.3" font-size="15.5" font-weight="bold" text-anchor="start" textLength="97.5" lengthAdjust="spacing" fill="none" stroke="#ffffff" stroke-opacity="0.85" stroke-width="3.0" stroke-linejoin="round" filter="url(#soft2)">INDONESIA</text>
<text x="1308.3" y="428.3" font-size="15.5" font-weight="bold" text-anchor="start" textLength="97.5" lengthAdjust="spacing" fill="#101010">INDONESIA</text>
<text x="1758.8" y="496.9" font-size="16.3" font-weight="bold" text-anchor="start" textLength="112.5" lengthAdjust="spacing" fill="none" stroke="#ffffff" stroke-opacity="0.85" stroke-width="3.0" stroke-linejoin="round" filter="url(#soft2)">PAPUA NEW</text>
<text x="1758.8" y="496.9" font-size="16.3" font-weight="bold" text-anchor="start" textLength="112.5" lengthAdjust="spacing" fill="#101010">PAPUA NEW</text>
<text x="1780" y="513.8" font-size="16.3" font-weight="bold" text-anchor="start" textLength="72.5" lengthAdjust="spacing" fill="none" stroke="#ffffff" stroke-opacity="0.85" stroke-width="3.0" stroke-linejoin="round" filter="url(#soft2)">GUINEA</text>
<text x="1780" y="513.8" font-size="16.3" font-weight="bold" text-anchor="start" textLength="72.5" lengthAdjust="spacing" fill="#101010">GUINEA</text>
</g>
<circle cx="1157.5" cy="209.7" r="3.8" fill="#f7e9ef" opacity="0.85" filter="url(#soft2)"/><circle cx="1157.5" cy="209.7" r="2.0" fill="#8b3553" filter="url(#soft2)"/>
<circle cx="1105.3" cy="353" r="2.7" fill="#f7e9ef" opacity="0.85" filter="url(#soft2)"/><circle cx="1105.3" cy="353" r="1.4" fill="#8b3553" filter="url(#soft2)"/>
<circle cx="1322.5" cy="320.8" r="3.8" fill="#f7e9ef" opacity="0.85" filter="url(#soft2)"/><circle cx="1322.5" cy="320.8" r="2.0" fill="#8b3553" filter="url(#soft2)"/>
<circle cx="1497.2" cy="542.3" r="4.0" fill="#f7e9ef" opacity="0.85" filter="url(#soft2)"/><circle cx="1497.2" cy="542.3" r="2.1" fill="#8b3553" filter="url(#soft2)"/>
<circle cx="1853" cy="558" r="4.2" fill="#f7e9ef" opacity="0.85" filter="url(#soft2)"/><circle cx="1853" cy="558" r="2.2" fill="#8b3553" filter="url(#soft2)"/>
<g filter="url(#soft2)">
<circle cx="1027.8" cy="331.7" r="10.45" fill="#f3d147" fill-opacity="0.85" stroke="#a3963a" stroke-opacity="0.95" stroke-width="1.7"/>
<circle cx="1064.2" cy="363.3" r="12.95" fill="#f3d147" fill-opacity="0.85" stroke="#a3963a" stroke-opacity="0.95" stroke-width="1.7"/>
<circle cx="1212" cy="338" r="9.85" fill="#f3d147" fill-opacity="0.85" stroke="#a3963a" stroke-opacity="0.95" stroke-width="1.7"/>
<circle cx="1106.7" cy="395" r="13.85" fill="#f3d147" fill-opacity="0.85" stroke="#a3963a" stroke-opacity="0.95" stroke-width="1.7"/>
<circle cx="1088.3" cy="413.3" r="10.45" fill="#f3d147" fill-opacity="0.85" stroke="#a3963a" stroke-opacity="0.95" stroke-width="1.7"/>
<circle cx="1176.7" cy="439.2" r="9.35" fill="#f3d147" fill-opacity="0.85" stroke="#a3963a" stroke-opacity="0.95" stroke-width="1.7"/>
<circle cx="1146.7" cy="454.7" r="9.95" fill="#f3d147" fill-opacity="0.85" stroke="#a3963a" stroke-opacity="0.95" stroke-width="1.7"/>
<circle cx="1160.8" cy="482.5" r="14.35" fill="#f3d147" fill-opacity="0.85" stroke="#a3963a" stroke-opacity="0.95" stroke-width="1.7"/>
<circle cx="1331.2" cy="450.3" r="12.15" fill="#f3d147" fill-opacity="0.85" stroke="#a3963a" stroke-opacity="0.95" stroke-width="1.7"/>
<circle cx="1445.8" cy="390.3" r="10.95" fill="#f3d147" fill-opacity="0.85" stroke="#a3963a" stroke-opacity="0.95" stroke-width="1.7"/>
<circle cx="1425.3" cy="429.2" r="12.15" fill="#f3d147" fill-opacity="0.85" stroke="#a3963a" stroke-opacity="0.95" stroke-width="1.7"/>
<circle cx="1396.7" cy="442.5" r="11.35" fill="#f3d147" fill-opacity="0.85" stroke="#a3963a" stroke-opacity="0.95" stroke-width="1.7"/>
<circle cx="1436.7" cy="464.2" r="9.95" fill="#f3d147" fill-opacity="0.85" stroke="#a3963a" stroke-opacity="0.95" stroke-width="1.7"/>
<circle cx="1248.3" cy="530.8" r="10.95" fill="#f3d147" fill-opacity="0.85" stroke="#a3963a" stroke-opacity="0.95" stroke-width="1.7"/>
<circle cx="1245.8" cy="520.8" r="9.65" fill="#f3d147" fill-opacity="0.85" stroke="#a3963a" stroke-opacity="0.95" stroke-width="1.7"/>
<circle cx="1326.7" cy="539.7" r="12.15" fill="#f3d147" fill-opacity="0.85" stroke="#a3963a" stroke-opacity="0.95" stroke-width="1.7"/>
<circle cx="1425.8" cy="543.3" r="12.65" fill="#f3d147" fill-opacity="0.85" stroke="#a3963a" stroke-opacity="0.95" stroke-width="1.7"/>
<circle cx="1562" cy="455" r="11.15" fill="#f3d147" fill-opacity="0.85" stroke="#a3963a" stroke-opacity="0.95" stroke-width="1.7"/>
<circle cx="1623.8" cy="436.7" r="12.65" fill="#f3d147" fill-opacity="0.85" stroke="#a3963a" stroke-opacity="0.95" stroke-width="1.7"/>
<circle cx="1748" cy="443.3" r="13.35" fill="#f3d147" fill-opacity="0.85" stroke="#a3963a" stroke-opacity="0.95" stroke-width="1.7"/>
<circle cx="1122.8" cy="429.2" r="6.55" fill="#2cc82d" fill-opacity="0.85" stroke="#1a7a28" stroke-opacity="0.95" stroke-width="1.9"/>
<circle cx="1115.3" cy="464.2" r="5.35" fill="#2cc82d" fill-opacity="0.85" stroke="#1a7a28" stroke-opacity="0.95" stroke-width="1.9"/>
<circle cx="1345" cy="354.2" r="7.85" fill="#2cc82d" fill-opacity="0.85" stroke="#1a7a28" stroke-opacity="0.95" stroke-width="1.9"/>
<circle cx="1261.7" cy="402.5" r="6.55" fill="#2cc82d" fill-opacity="0.85" stroke="#1a7a28" stroke-opacity="0.95" stroke-width="1.9"/>
<circle cx="1298.3" cy="428.3" r="7.05" fill="#2cc82d" fill-opacity="0.85" stroke="#1a7a28" stroke-opacity="0.95" stroke-width="1.9"/>
<circle cx="1409.2" cy="461.7" r="6.25" fill="#2cc82d" fill-opacity="0.85" stroke="#1a7a28" stroke-opacity="0.95" stroke-width="1.9"/>
<circle cx="1285.3" cy="530.3" r="6.75" fill="#2cc82d" fill-opacity="0.85" stroke="#1a7a28" stroke-opacity="0.95" stroke-width="1.9"/>
<circle cx="1381.2" cy="542.2" r="6.55" fill="#2cc82d" fill-opacity="0.85" stroke="#1a7a28" stroke-opacity="0.95" stroke-width="1.9"/>
<circle cx="1348.8" cy="394.2" r="16.35" fill="#ff2d2f" fill-opacity="0.85" stroke="#9e1c30" stroke-opacity="0.95" stroke-width="1.7"/>
<circle cx="1477.5" cy="387.5" r="17.65" fill="#ff2d2f" fill-opacity="0.85" stroke="#9e1c30" stroke-opacity="0.95" stroke-width="1.7"/>
<circle cx="1538.6" cy="387.5" r="17.45" fill="#ff2d2f" fill-opacity="0.85" stroke="#9e1c30" stroke-opacity="0.95" stroke-width="1.7"/>
<circle cx="1191.3" cy="500.6" r="15.45" fill="#ff2d2f" fill-opacity="0.85" stroke="#9e1c30" stroke-opacity="0.95" stroke-width="1.7"/>
<circle cx="1180" cy="507.5" r="14.25" fill="#f3d147" fill-opacity="0.85" stroke="#a3963a" stroke-opacity="0.95" stroke-width="1.7"/>
<circle cx="1205" cy="516.3" r="14.95" fill="#ff2d2f" fill-opacity="0.85" stroke="#9e1c30" stroke-opacity="0.95" stroke-width="1.7"/>
</g>
<rect x="905.8" y="653.6" width="7" height="6.5" fill="#f1511b" opacity="0.9" filter="url(#soft2)"/>
<rect x="913.6" y="653.6" width="7" height="6.5" fill="#80cc28" opacity="0.9" filter="url(#soft2)"/>
<rect x="905.8" y="661.1" width="7" height="6.5" fill="#00adef" opacity="0.9" filter="url(#soft2)"/>
<rect x="913.6" y="661.1" width="7" height="6.5" fill="#fbbc09" opacity="0.9" filter="url(#soft2)"/>
<g filter="url(#tblur)">
<text x="925.5" y="665.9" font-size="13" fill="#56667f" stroke="#56667f" stroke-width="0.25" opacity="0.92" textLength="72.5" lengthAdjust="spacingAndGlyphs">Microsoft Bing</text>
</g>
<g filter="url(#tblur)">
<text x="1452.5" y="669.2" font-size="13.05" fill="none" stroke="#fff" stroke-opacity="0.55" stroke-width="2.2" stroke-linejoin="round" textLength="276.4" lengthAdjust="spacingAndGlyphs">© 2023 TomTom, © 2023 Microsoft Corporation,</text>
<text x="1452.5" y="669.2" font-size="13.05" fill="#1d1d1d" stroke="#1d1d1d" stroke-width="0.25" textLength="276.4" lengthAdjust="spacingAndGlyphs">© 2023 TomTom, © 2023 Microsoft Corporation,</text>
<text x="1732.5" y="669.2" font-size="13.05" fill="none" stroke="#fff" stroke-opacity="0.55" stroke-width="2.2" stroke-linejoin="round" textLength="105.4" lengthAdjust="spacingAndGlyphs">© OpenStreetMap</text>
<text x="1732.5" y="669.2" font-size="13.05" fill="#3f63a3" textLength="105.4" lengthAdjust="spacingAndGlyphs">© OpenStreetMap</text>
<rect x="1732.5" y="670.9" width="105.4" height="1" fill="#3f63a3"/>
</g>
</g>
<rect x="898.5" y="193.2" width="977.8" height="1" fill="#a3bbdf" opacity="0.8"/>
<rect x="898.5" y="680.4" width="977.8" height="1.1" fill="#a3bbdf" opacity="0.7"/>
<g stroke="#666666" stroke-width="1.5" stroke-dasharray="1.6 7.07" filter="url(#tblur)">
<line x1="1064.6" y1="744.1" x2="1064.6" y2="998"/>
<line x1="1243.0" y1="744.1" x2="1243.0" y2="998"/>
<line x1="1421.4" y1="744.1" x2="1421.4" y2="998"/>
<line x1="1599.6" y1="744.1" x2="1599.6" y2="998"/>
<line x1="1778.1" y1="744.1" x2="1778.1" y2="998"/>
</g>
<g filter="url(#soft2)">
<rect x="1064.3" y="759.7" width="792.9" height="35" fill="#ee0000"/>
<rect x="1064.3" y="759.5" width="792.9" height="1.5" fill="#c40a0a"/>
<rect x="1064.3" y="805.4" width="779.3" height="35" fill="#ee0000"/>
<rect x="1064.3" y="805.1999999999999" width="779.3" height="1.5" fill="#c40a0a"/>
<rect x="1064.3" y="851.2" width="756.1" height="35" fill="#ee0000"/>
<rect x="1064.3" y="851.0" width="756.1" height="1.5" fill="#c40a0a"/>
<rect x="1064.3" y="896.9" width="686.6" height="35" fill="#ee0000"/>
<rect x="1064.3" y="896.6999999999999" width="686.6" height="1.5" fill="#c40a0a"/>
<rect x="1064.3" y="942.5" width="686.6" height="35" fill="#ee0000"/>
<rect x="1064.3" y="942.3" width="686.6" height="1.5" fill="#c40a0a"/>
</g>
<g filter="url(#tblur)">
<text x="973.7" y="784.1" font-size="17" fill="#2a2a2a" stroke="#2a2a2a" stroke-width="0.3" textLength="76.6" lengthAdjust="spacingAndGlyphs">DKI Jakarta</text>
<text x="1828.0" y="784.6" font-size="16.5" fill="#fbe9e9" textLength="17.3" lengthAdjust="spacingAndGlyphs">89</text>
<text x="947.7" y="829.8" font-size="17" fill="#2a2a2a" stroke="#2a2a2a" stroke-width="0.3" textLength="102.6" lengthAdjust="spacingAndGlyphs">Sulawesi Utara</text>
<text x="1814.4" y="830.3" font-size="16.5" fill="#fbe9e9" textLength="17.3" lengthAdjust="spacingAndGlyphs">87</text>
<text x="955.2" y="875.6" font-size="17" fill="#2a2a2a" stroke="#2a2a2a" stroke-width="0.3" textLength="95.1" lengthAdjust="spacingAndGlyphs">Maluku Utara</text>
<text x="1832.6" y="876.3" font-size="16.5" fill="#6b6967" textLength="16.6" lengthAdjust="spacingAndGlyphs">85</text>
<text x="975.5" y="921.3" font-size="17" fill="#2a2a2a" stroke="#2a2a2a" stroke-width="0.3" textLength="74.8" lengthAdjust="spacingAndGlyphs">Jawa Barat</text>
<text x="1763.1" y="922.0" font-size="16.5" fill="#6b6967" textLength="16.6" lengthAdjust="spacingAndGlyphs">77</text>
<text x="926.8" y="966.9" font-size="17" fill="#2a2a2a" stroke="#2a2a2a" stroke-width="0.3" textLength="123.5" lengthAdjust="spacingAndGlyphs">Kalimantan Timur</text>
<text x="1763.1" y="967.6" font-size="16.5" fill="#6b6967" textLength="16.6" lengthAdjust="spacingAndGlyphs">77</text>
<text x="1064.6" y="1018.8" font-size="15" fill="#242424" stroke="#242424" stroke-width="0.5" text-anchor="middle">0</text>
<text x="1243.0" y="1018.8" font-size="15" fill="#242424" stroke="#242424" stroke-width="0.5" text-anchor="middle">20</text>
<text x="1421.4" y="1018.8" font-size="15" fill="#242424" stroke="#242424" stroke-width="0.5" text-anchor="middle">40</text>
<text x="1599.6" y="1018.8" font-size="15" fill="#242424" stroke="#242424" stroke-width="0.5" text-anchor="middle">60</text>
<text x="1778.1" y="1018.8" font-size="15" fill="#242424" stroke="#242424" stroke-width="0.5" text-anchor="middle">80</text>
<text x="1375.3" y="1040.1" font-size="15.4" fill="#4d4b49" stroke="#4d4b49" stroke-width="0.3" textLength="179.8" lengthAdjust="spacingAndGlyphs">Indeks Kerawanan Pemilu</text>
</g>
</svg></body></html>
